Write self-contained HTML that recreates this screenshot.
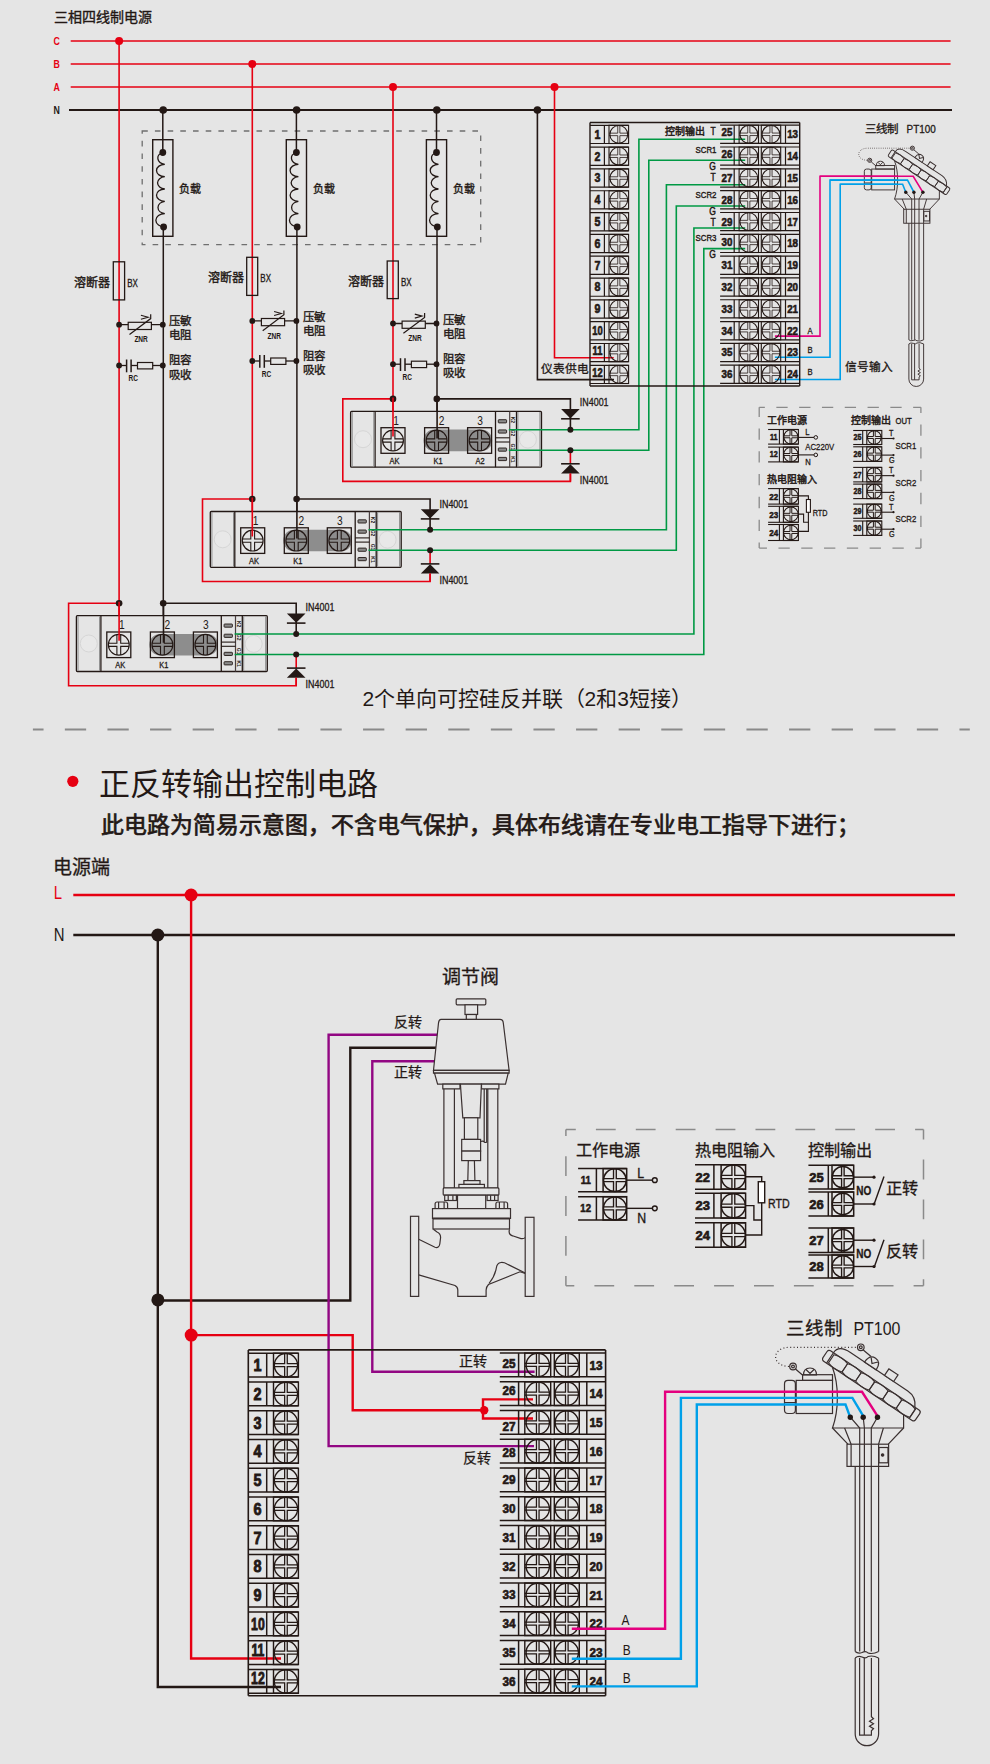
<!DOCTYPE html><html lang="zh-CN"><head><meta charset="utf-8"><style>html,body{margin:0;padding:0;background:#e5e5e5;}svg{display:block}text{font-family:"Liberation Sans",sans-serif}</style></head><body>
<svg width="990" height="1764" viewBox="0 0 990 1764">
<rect width="990" height="1764" fill="#e5e5e5"/>
<text x="54" y="21.9" font-size="14" fill="#231815" font-weight="normal" text-anchor="start" stroke="#231815" stroke-width="0.35">三相四线制电源</text>
<text transform="translate(53.5,44.8) scale(0.8,1)" x="0" y="0" font-size="11" fill="#e60012" font-weight="bold" text-anchor="start">C</text>
<text transform="translate(53.5,67.8) scale(0.8,1)" x="0" y="0" font-size="11" fill="#e60012" font-weight="bold" text-anchor="start">B</text>
<text transform="translate(53.5,90.8) scale(0.8,1)" x="0" y="0" font-size="11" fill="#e60012" font-weight="bold" text-anchor="start">A</text>
<text transform="translate(53.5,113.8) scale(0.8,1)" x="0" y="0" font-size="11" fill="#231815" font-weight="bold" text-anchor="start">N</text>
<line x1="70.7" y1="41" x2="950.6" y2="41" stroke="#e60012" stroke-width="1.6" />
<line x1="70.7" y1="64" x2="950.6" y2="64" stroke="#e60012" stroke-width="1.6" />
<line x1="70.7" y1="87" x2="950.6" y2="87" stroke="#e60012" stroke-width="1.6" />
<line x1="69" y1="110" x2="952" y2="110" stroke="#231815" stroke-width="2" />
<rect x="142.2" y="131" width="338.5" height="113.7" fill="none" stroke="#6f6f6f" stroke-width="1.3" stroke-dasharray="5.6 7.1"/>
<line x1="119.1" y1="41" x2="119.1" y2="617.2" stroke="#e60012" stroke-width="1.6" />
<line x1="162.8" y1="110" x2="162.8" y2="153" stroke="#231815" stroke-width="1.5" />
<line x1="163.3" y1="226" x2="163.3" y2="617.2" stroke="#231815" stroke-width="1.5" />
<rect x="152.7" y="139.7" width="20.2" height="96.6" fill="none" stroke="#231815" stroke-width="1.4" />
<path d="M162.8,152.5 A8.3 6.2 0 0 0 164.8,164.3 A8.3 6.2 0 0 0 164.8,176.7 A8.3 6.2 0 0 0 164.8,189 A8.3 6.2 0 0 0 164.8,201.4 A8.3 6.2 0 0 0 164.8,213.6 A8.3 6.2 0 0 0 164.8,227" fill="none" stroke="#231815" stroke-width="1.3" />
<circle cx="162.8" cy="152.5" r="3.4" fill="#231815"/>
<circle cx="163.6" cy="227" r="3.4" fill="#231815"/>
<text x="179.4" y="193.45" font-size="11" fill="#231815" font-weight="normal" text-anchor="start" stroke="#231815" stroke-width="0.35">负载</text>
<rect x="113.3" y="261.8" width="11.3" height="38.1" fill="none" stroke="#231815" stroke-width="1.3" />
<text x="74.1" y="286.85" font-size="12" fill="#231815" font-weight="normal" text-anchor="start" stroke="#231815" stroke-width="0.35">溶断器</text>
<text transform="translate(127.2,286.8) scale(0.8,1)" x="0" y="0" font-size="10" fill="#231815" font-weight="normal" text-anchor="start" stroke="#231815" stroke-width="0.3">BX</text>
<line x1="119.1" y1="324.7" x2="162.8" y2="324.7" stroke="#231815" stroke-width="1.3" />
<rect x="128.2" y="322.3" width="23.2" height="7.2" fill="#e5e5e5" stroke="#231815" stroke-width="1.2" />
<polyline points="129.5,334.5 150.7,318.6 150.7,314.2" fill="none" stroke="#231815" stroke-width="1.2" stroke-linejoin="miter" />
<polyline points="140.9,315.3 148.1,317.3 140.9,319.3" fill="none" stroke="#231815" stroke-width="1.1" stroke-linejoin="miter" />
<text transform="translate(141.1,342.43) scale(0.8,1)" x="0" y="0" font-size="8.2" fill="#231815" font-weight="bold" text-anchor="middle">ZNR</text>
<circle cx="119.1" cy="324.7" r="2.9" fill="#231815"/>
<circle cx="162.8" cy="324.7" r="2.9" fill="#231815"/>
<text x="168.9" y="325.22" font-size="11.5" fill="#231815" font-weight="normal" text-anchor="start" stroke="#231815" stroke-width="0.35">压敏</text>
<text x="168.9" y="339.12" font-size="11.5" fill="#231815" font-weight="normal" text-anchor="start" stroke="#231815" stroke-width="0.35">电阻</text>
<line x1="119.1" y1="365.5" x2="126.6" y2="365.5" stroke="#231815" stroke-width="1.3" />
<line x1="131.1" y1="365.5" x2="137.5" y2="365.5" stroke="#231815" stroke-width="1.3" />
<line x1="152.7" y1="365.5" x2="162.8" y2="365.5" stroke="#231815" stroke-width="1.3" />
<line x1="126.6" y1="359.5" x2="126.6" y2="372.3" stroke="#231815" stroke-width="1.5" />
<line x1="131.1" y1="359.5" x2="131.1" y2="372.3" stroke="#231815" stroke-width="1.5" />
<rect x="137.5" y="362.5" width="15.2" height="6.4" fill="none" stroke="#231815" stroke-width="1.2" />
<text transform="translate(133.3,381.23) scale(0.8,1)" x="0" y="0" font-size="8.2" fill="#231815" font-weight="bold" text-anchor="middle">RC</text>
<circle cx="119.1" cy="365.5" r="2.9" fill="#231815"/>
<circle cx="162.8" cy="365.5" r="2.9" fill="#231815"/>
<text x="168.9" y="364.32" font-size="11.5" fill="#231815" font-weight="normal" text-anchor="start" stroke="#231815" stroke-width="0.35">阻容</text>
<text x="168.9" y="378.52" font-size="11.5" fill="#231815" font-weight="normal" text-anchor="start" stroke="#231815" stroke-width="0.35">吸收</text>
<line x1="252.3" y1="64" x2="252.3" y2="512.8" stroke="#e60012" stroke-width="1.6" />
<line x1="296.4" y1="110" x2="296.4" y2="153" stroke="#231815" stroke-width="1.5" />
<line x1="296.9" y1="226" x2="296.9" y2="512.8" stroke="#231815" stroke-width="1.5" />
<rect x="286.3" y="139.7" width="20.2" height="96.6" fill="none" stroke="#231815" stroke-width="1.4" />
<path d="M296.4,152.5 A8.3 6.2 0 0 0 298.4,164.3 A8.3 6.2 0 0 0 298.4,176.7 A8.3 6.2 0 0 0 298.4,189 A8.3 6.2 0 0 0 298.4,201.4 A8.3 6.2 0 0 0 298.4,213.6 A8.3 6.2 0 0 0 298.4,227" fill="none" stroke="#231815" stroke-width="1.3" />
<circle cx="296.4" cy="152.5" r="3.4" fill="#231815"/>
<circle cx="297.2" cy="227" r="3.4" fill="#231815"/>
<text x="313" y="193.45" font-size="11" fill="#231815" font-weight="normal" text-anchor="start" stroke="#231815" stroke-width="0.35">负载</text>
<rect x="246.7" y="257.3" width="11" height="38.1" fill="none" stroke="#231815" stroke-width="1.3" />
<text x="207.5" y="282.35" font-size="12" fill="#231815" font-weight="normal" text-anchor="start" stroke="#231815" stroke-width="0.35">溶断器</text>
<text transform="translate(260.3,282.3) scale(0.8,1)" x="0" y="0" font-size="10" fill="#231815" font-weight="normal" text-anchor="start" stroke="#231815" stroke-width="0.3">BX</text>
<line x1="252.3" y1="320.9" x2="296.4" y2="320.9" stroke="#231815" stroke-width="1.3" />
<rect x="261.4" y="318.5" width="23.2" height="7.2" fill="#e5e5e5" stroke="#231815" stroke-width="1.2" />
<polyline points="262.7,330.7 283.9,314.8 283.9,310.4" fill="none" stroke="#231815" stroke-width="1.2" stroke-linejoin="miter" />
<polyline points="274.1,311.5 281.3,313.5 274.1,315.5" fill="none" stroke="#231815" stroke-width="1.1" stroke-linejoin="miter" />
<text transform="translate(274.3,338.63) scale(0.8,1)" x="0" y="0" font-size="8.2" fill="#231815" font-weight="bold" text-anchor="middle">ZNR</text>
<circle cx="252.3" cy="320.9" r="2.9" fill="#231815"/>
<circle cx="296.4" cy="320.9" r="2.9" fill="#231815"/>
<text x="302.5" y="321.42" font-size="11.5" fill="#231815" font-weight="normal" text-anchor="start" stroke="#231815" stroke-width="0.35">压敏</text>
<text x="302.5" y="335.32" font-size="11.5" fill="#231815" font-weight="normal" text-anchor="start" stroke="#231815" stroke-width="0.35">电阻</text>
<line x1="252.3" y1="361" x2="259.8" y2="361" stroke="#231815" stroke-width="1.3" />
<line x1="264.3" y1="361" x2="270.7" y2="361" stroke="#231815" stroke-width="1.3" />
<line x1="285.9" y1="361" x2="296.4" y2="361" stroke="#231815" stroke-width="1.3" />
<line x1="259.8" y1="355" x2="259.8" y2="367.8" stroke="#231815" stroke-width="1.5" />
<line x1="264.3" y1="355" x2="264.3" y2="367.8" stroke="#231815" stroke-width="1.5" />
<rect x="270.7" y="358" width="15.2" height="6.4" fill="none" stroke="#231815" stroke-width="1.2" />
<text transform="translate(266.5,376.73) scale(0.8,1)" x="0" y="0" font-size="8.2" fill="#231815" font-weight="bold" text-anchor="middle">RC</text>
<circle cx="252.3" cy="361" r="2.9" fill="#231815"/>
<circle cx="296.4" cy="361" r="2.9" fill="#231815"/>
<text x="302.5" y="359.82" font-size="11.5" fill="#231815" font-weight="normal" text-anchor="start" stroke="#231815" stroke-width="0.35">阻容</text>
<text x="302.5" y="374.02" font-size="11.5" fill="#231815" font-weight="normal" text-anchor="start" stroke="#231815" stroke-width="0.35">吸收</text>
<line x1="393" y1="87" x2="393" y2="412.6" stroke="#e60012" stroke-width="1.6" />
<line x1="436.5" y1="110" x2="436.5" y2="153" stroke="#231815" stroke-width="1.5" />
<line x1="437" y1="226" x2="437" y2="412.6" stroke="#231815" stroke-width="1.5" />
<rect x="426.4" y="139.7" width="20.2" height="96.6" fill="none" stroke="#231815" stroke-width="1.4" />
<path d="M436.5,152.5 A8.3 6.2 0 0 0 438.5,164.3 A8.3 6.2 0 0 0 438.5,176.7 A8.3 6.2 0 0 0 438.5,189 A8.3 6.2 0 0 0 438.5,201.4 A8.3 6.2 0 0 0 438.5,213.6 A8.3 6.2 0 0 0 438.5,227" fill="none" stroke="#231815" stroke-width="1.3" />
<circle cx="436.5" cy="152.5" r="3.4" fill="#231815"/>
<circle cx="437.3" cy="227" r="3.4" fill="#231815"/>
<text x="453.1" y="193.45" font-size="11" fill="#231815" font-weight="normal" text-anchor="start" stroke="#231815" stroke-width="0.35">负载</text>
<rect x="387.2" y="261" width="11.1" height="37.6" fill="none" stroke="#231815" stroke-width="1.3" />
<text x="348" y="285.8" font-size="12" fill="#231815" font-weight="normal" text-anchor="start" stroke="#231815" stroke-width="0.35">溶断器</text>
<text transform="translate(400.9,285.75) scale(0.8,1)" x="0" y="0" font-size="10" fill="#231815" font-weight="normal" text-anchor="start" stroke="#231815" stroke-width="0.3">BX</text>
<line x1="393" y1="323.5" x2="436.5" y2="323.5" stroke="#231815" stroke-width="1.3" />
<rect x="402.1" y="321.1" width="23.2" height="7.2" fill="#e5e5e5" stroke="#231815" stroke-width="1.2" />
<polyline points="403.4,333.3 424.6,317.4 424.6,313" fill="none" stroke="#231815" stroke-width="1.2" stroke-linejoin="miter" />
<polyline points="414.8,314.1 422,316.1 414.8,318.1" fill="none" stroke="#231815" stroke-width="1.1" stroke-linejoin="miter" />
<text transform="translate(415,341.23) scale(0.8,1)" x="0" y="0" font-size="8.2" fill="#231815" font-weight="bold" text-anchor="middle">ZNR</text>
<circle cx="393" cy="323.5" r="2.9" fill="#231815"/>
<circle cx="436.5" cy="323.5" r="2.9" fill="#231815"/>
<text x="442.6" y="324.02" font-size="11.5" fill="#231815" font-weight="normal" text-anchor="start" stroke="#231815" stroke-width="0.35">压敏</text>
<text x="442.6" y="337.92" font-size="11.5" fill="#231815" font-weight="normal" text-anchor="start" stroke="#231815" stroke-width="0.35">电阻</text>
<line x1="393" y1="364.2" x2="400.5" y2="364.2" stroke="#231815" stroke-width="1.3" />
<line x1="405" y1="364.2" x2="411.4" y2="364.2" stroke="#231815" stroke-width="1.3" />
<line x1="426.6" y1="364.2" x2="436.5" y2="364.2" stroke="#231815" stroke-width="1.3" />
<line x1="400.5" y1="358.2" x2="400.5" y2="371" stroke="#231815" stroke-width="1.5" />
<line x1="405" y1="358.2" x2="405" y2="371" stroke="#231815" stroke-width="1.5" />
<rect x="411.4" y="361.2" width="15.2" height="6.4" fill="none" stroke="#231815" stroke-width="1.2" />
<text transform="translate(407.2,379.93) scale(0.8,1)" x="0" y="0" font-size="8.2" fill="#231815" font-weight="bold" text-anchor="middle">RC</text>
<circle cx="393" cy="364.2" r="2.9" fill="#231815"/>
<circle cx="436.5" cy="364.2" r="2.9" fill="#231815"/>
<text x="442.6" y="363.02" font-size="11.5" fill="#231815" font-weight="normal" text-anchor="start" stroke="#231815" stroke-width="0.35">阻容</text>
<text x="442.6" y="377.22" font-size="11.5" fill="#231815" font-weight="normal" text-anchor="start" stroke="#231815" stroke-width="0.35">吸收</text>
<circle cx="119.1" cy="41" r="4" fill="#e60012"/>
<circle cx="252.3" cy="64" r="4" fill="#e60012"/>
<circle cx="393" cy="87" r="4" fill="#e60012"/>
<circle cx="554.5" cy="87" r="4" fill="#e60012"/>
<circle cx="163.2" cy="110" r="3.8" fill="#231815"/>
<circle cx="296.6" cy="110" r="3.8" fill="#231815"/>
<circle cx="436.8" cy="110" r="3.8" fill="#231815"/>
<circle cx="537.4" cy="110" r="3.8" fill="#231815"/>
<rect x="350.6" y="411.4" width="190.9" height="55.8" rx="1" fill="#e5e5e5" stroke="#231815" stroke-width="1.3"/>
<line x1="352.2" y1="412" x2="352.2" y2="466.6" stroke="#8a8a8a" stroke-width="1.0" />
<line x1="375.1" y1="411.4" x2="375.1" y2="467.2" stroke="#231815" stroke-width="1.3" />
<line x1="373.8" y1="412" x2="373.8" y2="466.6" stroke="#8a8a8a" stroke-width="1.0" />
<circle cx="363" cy="439.2" r="8.5" fill="#e8e8e8" stroke="#d6d6d6" stroke-width="1.0"/>
<line x1="516.5" y1="411.4" x2="516.5" y2="467.2" stroke="#231815" stroke-width="1.3" />
<line x1="517.9" y1="412" x2="517.9" y2="466.6" stroke="#8a8a8a" stroke-width="1.0" />
<line x1="540" y1="412" x2="540" y2="466.6" stroke="#8a8a8a" stroke-width="1.2" />
<circle cx="527.9" cy="439.6" r="8.5" fill="#e8e8e8" stroke="#d6d6d6" stroke-width="1.0"/>
<line x1="495.5" y1="411.4" x2="495.5" y2="467.2" stroke="#231815" stroke-width="1.3" />
<line x1="509.7" y1="411.4" x2="509.7" y2="467.2" stroke="#4a4040" stroke-width="1.2" />
<line x1="495.5" y1="437.8" x2="509.7" y2="437.8" stroke="#231815" stroke-width="1.1" />
<line x1="495.5" y1="442" x2="509.7" y2="442" stroke="#231815" stroke-width="1.1" />
<rect x="498.3" y="419.7" width="8.3" height="3.2" rx="0.6" fill="#8c8c8c" stroke="#231815" stroke-width="0.9"/>
<rect x="498.3" y="429.9" width="8.3" height="3.2" rx="0.6" fill="#8c8c8c" stroke="#231815" stroke-width="0.9"/>
<rect x="498.3" y="448" width="8.3" height="3.2" rx="0.6" fill="#8c8c8c" stroke="#231815" stroke-width="0.9"/>
<rect x="498.3" y="457.4" width="8.3" height="3.2" rx="0.6" fill="#8c8c8c" stroke="#231815" stroke-width="0.9"/>
<text transform="translate(511.1,419.9) rotate(90)" font-size="5" font-weight="bold" fill="#231815" text-anchor="middle">K2</text>
<text transform="translate(511.1,432.9) rotate(90)" font-size="5" font-weight="bold" fill="#231815" text-anchor="middle">G2</text>
<text transform="translate(511.1,446.9) rotate(90)" font-size="5" font-weight="bold" fill="#231815" text-anchor="middle">G1</text>
<text transform="translate(511.1,459.4) rotate(90)" font-size="5" font-weight="bold" fill="#231815" text-anchor="middle">K1</text>
<rect x="423.5" y="429.6" width="68.7" height="21.6" rx="10.8" fill="#8d8d8d"/>
<rect x="381" y="427.7" width="24" height="25.6" fill="none" stroke="#231815" stroke-width="1.3" />
<circle cx="393" cy="440.5" r="10.4" fill="none" stroke="#231815" stroke-width="1.2"/>
<path d="M391.1,430.4V438.9H382.9M382.9,442.1H391.1V450.6M394.9,430.4V438.9H403.1M403.1,442.1H394.9V450.6" fill="none" stroke="#231815" stroke-width="1.1" />
<rect x="424.6" y="427.7" width="24" height="25.6" fill="none" stroke="#231815" stroke-width="1.3" />
<circle cx="436.6" cy="440.5" r="10.4" fill="none" stroke="#231815" stroke-width="1.2"/>
<path d="M434.7,430.4V438.9H426.5M426.5,442.1H434.7V450.6M438.5,430.4V438.9H446.7M446.7,442.1H438.5V450.6" fill="none" stroke="#231815" stroke-width="1.1" />
<rect x="467.6" y="427.7" width="24" height="25.6" fill="none" stroke="#231815" stroke-width="1.3" />
<circle cx="479.6" cy="440.5" r="10.4" fill="none" stroke="#231815" stroke-width="1.2"/>
<path d="M477.7,430.4V438.9H469.5M469.5,442.1H477.7V450.6M481.5,430.4V438.9H489.7M489.7,442.1H481.5V450.6" fill="none" stroke="#231815" stroke-width="1.1" />
<text transform="translate(396,424.54) scale(0.85,1)" x="0" y="0" font-size="12" fill="#231815" font-weight="normal" text-anchor="middle">1</text>
<text transform="translate(441.6,424.54) scale(0.85,1)" x="0" y="0" font-size="12" fill="#231815" font-weight="normal" text-anchor="middle">2</text>
<text transform="translate(480.1,424.54) scale(0.85,1)" x="0" y="0" font-size="12" fill="#231815" font-weight="normal" text-anchor="middle">3</text>
<text transform="translate(394.4,463.54) scale(0.85,1)" x="0" y="0" font-size="8.8" fill="#231815" font-weight="normal" text-anchor="middle" stroke="#231815" stroke-width="0.3">AK</text>
<text transform="translate(438.1,463.54) scale(0.85,1)" x="0" y="0" font-size="8.8" fill="#231815" font-weight="normal" text-anchor="middle" stroke="#231815" stroke-width="0.3">K1</text>
<text transform="translate(480.1,463.54) scale(0.85,1)" x="0" y="0" font-size="8.8" fill="#231815" font-weight="normal" text-anchor="middle" stroke="#231815" stroke-width="0.3">A2</text>
<rect x="210.3" y="511.5" width="190.9" height="55.8" rx="1" fill="#e5e5e5" stroke="#231815" stroke-width="1.3"/>
<line x1="211.9" y1="512.1" x2="211.9" y2="566.7" stroke="#8a8a8a" stroke-width="1.0" />
<line x1="234.8" y1="511.5" x2="234.8" y2="567.3" stroke="#231815" stroke-width="1.3" />
<line x1="233.5" y1="512.1" x2="233.5" y2="566.7" stroke="#8a8a8a" stroke-width="1.0" />
<circle cx="222.7" cy="539.3" r="8.5" fill="#e8e8e8" stroke="#d6d6d6" stroke-width="1.0"/>
<line x1="376.2" y1="511.5" x2="376.2" y2="567.3" stroke="#231815" stroke-width="1.3" />
<line x1="377.6" y1="512.1" x2="377.6" y2="566.7" stroke="#8a8a8a" stroke-width="1.0" />
<line x1="399.7" y1="512.1" x2="399.7" y2="566.7" stroke="#8a8a8a" stroke-width="1.2" />
<circle cx="387.6" cy="539.7" r="8.5" fill="#e8e8e8" stroke="#d6d6d6" stroke-width="1.0"/>
<line x1="355.2" y1="511.5" x2="355.2" y2="567.3" stroke="#231815" stroke-width="1.3" />
<line x1="369.4" y1="511.5" x2="369.4" y2="567.3" stroke="#4a4040" stroke-width="1.2" />
<line x1="355.2" y1="537.9" x2="369.4" y2="537.9" stroke="#231815" stroke-width="1.1" />
<line x1="355.2" y1="542.1" x2="369.4" y2="542.1" stroke="#231815" stroke-width="1.1" />
<rect x="358" y="519.8" width="8.3" height="3.2" rx="0.6" fill="#8c8c8c" stroke="#231815" stroke-width="0.9"/>
<rect x="358" y="530" width="8.3" height="3.2" rx="0.6" fill="#8c8c8c" stroke="#231815" stroke-width="0.9"/>
<rect x="358" y="548.1" width="8.3" height="3.2" rx="0.6" fill="#8c8c8c" stroke="#231815" stroke-width="0.9"/>
<rect x="358" y="557.5" width="8.3" height="3.2" rx="0.6" fill="#8c8c8c" stroke="#231815" stroke-width="0.9"/>
<text transform="translate(370.8,520) rotate(90)" font-size="5" font-weight="bold" fill="#231815" text-anchor="middle">K2</text>
<text transform="translate(370.8,533) rotate(90)" font-size="5" font-weight="bold" fill="#231815" text-anchor="middle">G2</text>
<text transform="translate(370.8,547) rotate(90)" font-size="5" font-weight="bold" fill="#231815" text-anchor="middle">G1</text>
<text transform="translate(370.8,559.5) rotate(90)" font-size="5" font-weight="bold" fill="#231815" text-anchor="middle">K1</text>
<rect x="283.2" y="529.7" width="68.7" height="21.6" rx="10.8" fill="#8d8d8d"/>
<rect x="240.7" y="527.8" width="24" height="25.6" fill="none" stroke="#231815" stroke-width="1.3" />
<circle cx="252.7" cy="540.6" r="10.4" fill="none" stroke="#231815" stroke-width="1.2"/>
<path d="M250.8,530.5V539H242.6M242.6,542.2H250.8V550.7M254.6,530.5V539H262.8M262.8,542.2H254.6V550.7" fill="none" stroke="#231815" stroke-width="1.1" />
<rect x="284.3" y="527.8" width="24" height="25.6" fill="none" stroke="#231815" stroke-width="1.3" />
<circle cx="296.3" cy="540.6" r="10.4" fill="none" stroke="#231815" stroke-width="1.2"/>
<path d="M294.4,530.5V539H286.2M286.2,542.2H294.4V550.7M298.2,530.5V539H306.4M306.4,542.2H298.2V550.7" fill="none" stroke="#231815" stroke-width="1.1" />
<rect x="327.3" y="527.8" width="24" height="25.6" fill="none" stroke="#231815" stroke-width="1.3" />
<circle cx="339.3" cy="540.6" r="10.4" fill="none" stroke="#231815" stroke-width="1.2"/>
<path d="M337.4,530.5V539H329.2M329.2,542.2H337.4V550.7M341.2,530.5V539H349.4M349.4,542.2H341.2V550.7" fill="none" stroke="#231815" stroke-width="1.1" />
<text transform="translate(255.7,524.64) scale(0.85,1)" x="0" y="0" font-size="12" fill="#231815" font-weight="normal" text-anchor="middle">1</text>
<text transform="translate(301.3,524.64) scale(0.85,1)" x="0" y="0" font-size="12" fill="#231815" font-weight="normal" text-anchor="middle">2</text>
<text transform="translate(339.8,524.64) scale(0.85,1)" x="0" y="0" font-size="12" fill="#231815" font-weight="normal" text-anchor="middle">3</text>
<text transform="translate(254.1,563.64) scale(0.85,1)" x="0" y="0" font-size="8.8" fill="#231815" font-weight="normal" text-anchor="middle" stroke="#231815" stroke-width="0.3">AK</text>
<text transform="translate(297.8,563.64) scale(0.85,1)" x="0" y="0" font-size="8.8" fill="#231815" font-weight="normal" text-anchor="middle" stroke="#231815" stroke-width="0.3">K1</text>
<rect x="76.4" y="615.7" width="190.9" height="55.8" rx="1" fill="#e5e5e5" stroke="#231815" stroke-width="1.3"/>
<line x1="78" y1="616.3" x2="78" y2="670.9" stroke="#8a8a8a" stroke-width="1.0" />
<line x1="100.9" y1="615.7" x2="100.9" y2="671.5" stroke="#231815" stroke-width="1.3" />
<line x1="99.6" y1="616.3" x2="99.6" y2="670.9" stroke="#8a8a8a" stroke-width="1.0" />
<circle cx="88.8" cy="643.5" r="8.5" fill="#e8e8e8" stroke="#d6d6d6" stroke-width="1.0"/>
<line x1="242.3" y1="615.7" x2="242.3" y2="671.5" stroke="#231815" stroke-width="1.3" />
<line x1="243.7" y1="616.3" x2="243.7" y2="670.9" stroke="#8a8a8a" stroke-width="1.0" />
<line x1="265.8" y1="616.3" x2="265.8" y2="670.9" stroke="#8a8a8a" stroke-width="1.2" />
<circle cx="253.7" cy="643.9" r="8.5" fill="#e8e8e8" stroke="#d6d6d6" stroke-width="1.0"/>
<line x1="221.3" y1="615.7" x2="221.3" y2="671.5" stroke="#231815" stroke-width="1.3" />
<line x1="235.5" y1="615.7" x2="235.5" y2="671.5" stroke="#4a4040" stroke-width="1.2" />
<line x1="221.3" y1="642.1" x2="235.5" y2="642.1" stroke="#231815" stroke-width="1.1" />
<line x1="221.3" y1="646.3" x2="235.5" y2="646.3" stroke="#231815" stroke-width="1.1" />
<rect x="224.1" y="624" width="8.3" height="3.2" rx="0.6" fill="#8c8c8c" stroke="#231815" stroke-width="0.9"/>
<rect x="224.1" y="634.2" width="8.3" height="3.2" rx="0.6" fill="#8c8c8c" stroke="#231815" stroke-width="0.9"/>
<rect x="224.1" y="652.3" width="8.3" height="3.2" rx="0.6" fill="#8c8c8c" stroke="#231815" stroke-width="0.9"/>
<rect x="224.1" y="661.7" width="8.3" height="3.2" rx="0.6" fill="#8c8c8c" stroke="#231815" stroke-width="0.9"/>
<text transform="translate(236.9,624.2) rotate(90)" font-size="5" font-weight="bold" fill="#231815" text-anchor="middle">K2</text>
<text transform="translate(236.9,637.2) rotate(90)" font-size="5" font-weight="bold" fill="#231815" text-anchor="middle">G2</text>
<text transform="translate(236.9,651.2) rotate(90)" font-size="5" font-weight="bold" fill="#231815" text-anchor="middle">G1</text>
<text transform="translate(236.9,663.7) rotate(90)" font-size="5" font-weight="bold" fill="#231815" text-anchor="middle">K1</text>
<rect x="149.3" y="633.9" width="68.7" height="21.6" rx="10.8" fill="#8d8d8d"/>
<rect x="106.8" y="632" width="24" height="25.6" fill="none" stroke="#231815" stroke-width="1.3" />
<circle cx="118.8" cy="644.8" r="10.4" fill="none" stroke="#231815" stroke-width="1.2"/>
<path d="M116.9,634.7V643.2H108.7M108.7,646.4H116.9V654.9M120.7,634.7V643.2H128.9M128.9,646.4H120.7V654.9" fill="none" stroke="#231815" stroke-width="1.1" />
<rect x="150.4" y="632" width="24" height="25.6" fill="none" stroke="#231815" stroke-width="1.3" />
<circle cx="162.4" cy="644.8" r="10.4" fill="none" stroke="#231815" stroke-width="1.2"/>
<path d="M160.5,634.7V643.2H152.3M152.3,646.4H160.5V654.9M164.3,634.7V643.2H172.5M172.5,646.4H164.3V654.9" fill="none" stroke="#231815" stroke-width="1.1" />
<rect x="193.4" y="632" width="24" height="25.6" fill="none" stroke="#231815" stroke-width="1.3" />
<circle cx="205.4" cy="644.8" r="10.4" fill="none" stroke="#231815" stroke-width="1.2"/>
<path d="M203.5,634.7V643.2H195.3M195.3,646.4H203.5V654.9M207.3,634.7V643.2H215.5M215.5,646.4H207.3V654.9" fill="none" stroke="#231815" stroke-width="1.1" />
<text transform="translate(121.8,628.84) scale(0.85,1)" x="0" y="0" font-size="12" fill="#231815" font-weight="normal" text-anchor="middle">1</text>
<text transform="translate(167.4,628.84) scale(0.85,1)" x="0" y="0" font-size="12" fill="#231815" font-weight="normal" text-anchor="middle">2</text>
<text transform="translate(205.9,628.84) scale(0.85,1)" x="0" y="0" font-size="12" fill="#231815" font-weight="normal" text-anchor="middle">3</text>
<text transform="translate(120.2,667.84) scale(0.85,1)" x="0" y="0" font-size="8.8" fill="#231815" font-weight="normal" text-anchor="middle" stroke="#231815" stroke-width="0.3">AK</text>
<text transform="translate(163.9,667.84) scale(0.85,1)" x="0" y="0" font-size="8.8" fill="#231815" font-weight="normal" text-anchor="middle" stroke="#231815" stroke-width="0.3">K1</text>
<polyline points="436.8,398.9 570.4,398.9 570.4,429.7" fill="none" stroke="#231815" stroke-width="1.6" stroke-linejoin="miter" />
<path d="M561.1,409.1H579.7L570.4,418.4Z" fill="#231815"/>
<line x1="561.1" y1="418.8" x2="579.7" y2="418.8" stroke="#231815" stroke-width="1.6" />
<polyline points="393,398.9 342.8,398.9 342.8,481.4 570.4,481.4 570.4,473.4" fill="none" stroke="#e60012" stroke-width="1.6" stroke-linejoin="miter" />
<line x1="570.4" y1="450.2" x2="570.4" y2="464" stroke="#e60012" stroke-width="1.6" />
<path d="M561.1,473.4H579.7L570.4,464.2Z" fill="#231815"/>
<line x1="561.1" y1="463.8" x2="579.7" y2="463.8" stroke="#231815" stroke-width="1.6" />
<line x1="570.4" y1="473.4" x2="570.4" y2="481.4" stroke="#e60012" stroke-width="1.6" />
<circle cx="393" cy="398.9" r="3.3" fill="#231815"/>
<circle cx="436.8" cy="398.9" r="3.3" fill="#231815"/>
<text transform="translate(579.8,405.72) scale(0.85,1)" x="0" y="0" font-size="10.5" fill="#231815" font-weight="normal" text-anchor="start" stroke="#231815" stroke-width="0.3">IN4001</text>
<text transform="translate(579.8,483.82) scale(0.85,1)" x="0" y="0" font-size="10.5" fill="#231815" font-weight="normal" text-anchor="start" stroke="#231815" stroke-width="0.3">IN4001</text>
<line x1="393" y1="397.4" x2="393" y2="436.4" stroke="#e60012" stroke-width="1.6" />
<line x1="437.1" y1="397.4" x2="437.1" y2="438.4" stroke="#231815" stroke-width="1.6" />
<polyline points="296.6,499 430.1,499 430.1,529.8" fill="none" stroke="#231815" stroke-width="1.6" stroke-linejoin="miter" />
<path d="M420.8,509.2H439.4L430.1,518.5Z" fill="#231815"/>
<line x1="420.8" y1="518.9" x2="439.4" y2="518.9" stroke="#231815" stroke-width="1.6" />
<polyline points="252.3,499 202.5,499 202.5,581.5 430.1,581.5 430.1,573.5" fill="none" stroke="#e60012" stroke-width="1.6" stroke-linejoin="miter" />
<line x1="430.1" y1="550.3" x2="430.1" y2="564.1" stroke="#e60012" stroke-width="1.6" />
<path d="M420.8,573.5H439.4L430.1,564.3Z" fill="#231815"/>
<line x1="420.8" y1="563.9" x2="439.4" y2="563.9" stroke="#231815" stroke-width="1.6" />
<line x1="430.1" y1="573.5" x2="430.1" y2="581.5" stroke="#e60012" stroke-width="1.6" />
<circle cx="252.3" cy="499" r="3.3" fill="#231815"/>
<circle cx="296.6" cy="499" r="3.3" fill="#231815"/>
<text transform="translate(439.5,508.42) scale(0.85,1)" x="0" y="0" font-size="10.5" fill="#231815" font-weight="normal" text-anchor="start" stroke="#231815" stroke-width="0.3">IN4001</text>
<text transform="translate(439.5,583.92) scale(0.85,1)" x="0" y="0" font-size="10.5" fill="#231815" font-weight="normal" text-anchor="start" stroke="#231815" stroke-width="0.3">IN4001</text>
<line x1="252.3" y1="497.5" x2="252.3" y2="536.5" stroke="#e60012" stroke-width="1.6" />
<line x1="296.9" y1="497.5" x2="296.9" y2="538.5" stroke="#231815" stroke-width="1.6" />
<polyline points="163.2,603.2 296.2,603.2 296.2,634" fill="none" stroke="#231815" stroke-width="1.6" stroke-linejoin="miter" />
<path d="M286.9,613.4H305.5L296.2,622.7Z" fill="#231815"/>
<line x1="286.9" y1="623.1" x2="305.5" y2="623.1" stroke="#231815" stroke-width="1.6" />
<polyline points="119.1,603.2 68.6,603.2 68.6,685.7 296.2,685.7 296.2,677.7" fill="none" stroke="#e60012" stroke-width="1.6" stroke-linejoin="miter" />
<line x1="296.2" y1="654.5" x2="296.2" y2="668.3" stroke="#e60012" stroke-width="1.6" />
<path d="M286.9,677.7H305.5L296.2,668.5Z" fill="#231815"/>
<line x1="286.9" y1="668.1" x2="305.5" y2="668.1" stroke="#231815" stroke-width="1.6" />
<line x1="296.2" y1="677.7" x2="296.2" y2="685.7" stroke="#e60012" stroke-width="1.6" />
<circle cx="119.1" cy="603.2" r="3.3" fill="#231815"/>
<circle cx="163.2" cy="603.2" r="3.3" fill="#231815"/>
<text transform="translate(305.6,610.62) scale(0.85,1)" x="0" y="0" font-size="10.5" fill="#231815" font-weight="normal" text-anchor="start" stroke="#231815" stroke-width="0.3">IN4001</text>
<text transform="translate(305.6,688.12) scale(0.85,1)" x="0" y="0" font-size="10.5" fill="#231815" font-weight="normal" text-anchor="start" stroke="#231815" stroke-width="0.3">IN4001</text>
<line x1="119.1" y1="601.7" x2="119.1" y2="640.7" stroke="#e60012" stroke-width="1.6" />
<line x1="163.5" y1="601.7" x2="163.5" y2="642.7" stroke="#231815" stroke-width="1.6" />
<polyline points="554.5,87 554.5,357.8 613.7,357.8" fill="none" stroke="#e60012" stroke-width="1.6" stroke-linejoin="miter" />
<polyline points="537.4,110 537.4,379.6 614,379.6" fill="none" stroke="#231815" stroke-width="1.6" stroke-linejoin="miter" />
<polyline points="774.9,336.1 820,336.1 820,176.3 913.2,176.3 922.8,192.2" fill="none" stroke="#e4007f" stroke-width="1.6" stroke-linejoin="miter" />
<polyline points="774.9,357.3 830,357.3 830,180.1 907.5,180.1 913.9,192.2" fill="none" stroke="#00a0e9" stroke-width="1.6" stroke-linejoin="miter" />
<polyline points="774.9,379.5 840.2,379.5 840.2,184.2 902.6,184.2 905.8,192.2" fill="none" stroke="#00a0e9" stroke-width="1.6" stroke-linejoin="miter" />
<text x="541.2" y="373.3" font-size="11.7" fill="#231815" font-weight="normal" text-anchor="start" stroke="#231815" stroke-width="0.3">仪表供电</text>
<text x="845.1" y="371.3" font-size="11.7" fill="#231815" font-weight="normal" text-anchor="start" stroke="#231815" stroke-width="0.3">信号输入</text>
<text transform="translate(807.4,333.5) scale(0.85,1)" x="0" y="0" font-size="9" fill="#231815" font-weight="normal" text-anchor="start" stroke="#231815" stroke-width="0.3">A</text>
<text transform="translate(807.4,352.91) scale(0.85,1)" x="0" y="0" font-size="9" fill="#231815" font-weight="normal" text-anchor="start" stroke="#231815" stroke-width="0.3">B</text>
<text transform="translate(807.4,374.5) scale(0.85,1)" x="0" y="0" font-size="9" fill="#231815" font-weight="normal" text-anchor="start" stroke="#231815" stroke-width="0.3">B</text>
<text x="864.6" y="132.83" font-size="11.5" fill="#231815" font-weight="normal" text-anchor="start" stroke="#231815" stroke-width="0.3">三线制</text>
<text transform="translate(906.6,132.59) scale(0.9,1)" x="0" y="0" font-size="11" fill="#231815" font-weight="normal" text-anchor="start" stroke="#231815" stroke-width="0.3">PT100</text>
<polyline points="745.2,139.3 638.9,139.3 638.9,429.7 508.8,429.7" fill="none" stroke="#009944" stroke-width="1.6" stroke-linejoin="miter" />
<circle cx="570.4" cy="429.7" r="3" fill="#231815"/>
<polyline points="745.2,160.2 648.8,160.2 648.8,450.2 508.8,450.2" fill="none" stroke="#009944" stroke-width="1.6" stroke-linejoin="miter" />
<circle cx="570.4" cy="450.2" r="3" fill="#231815"/>
<polyline points="745.2,184.7 666.4,184.7 666.4,529.8 368.5,529.8" fill="none" stroke="#009944" stroke-width="1.6" stroke-linejoin="miter" />
<circle cx="430.1" cy="529.8" r="3" fill="#231815"/>
<polyline points="745.2,206 676.3,206 676.3,550.3 368.5,550.3" fill="none" stroke="#009944" stroke-width="1.6" stroke-linejoin="miter" />
<circle cx="430.1" cy="550.3" r="3" fill="#231815"/>
<polyline points="745.2,228 693.9,228 693.9,634 234.6,634" fill="none" stroke="#009944" stroke-width="1.6" stroke-linejoin="miter" />
<circle cx="296.2" cy="634" r="3" fill="#231815"/>
<polyline points="745.2,248.6 703.8,248.6 703.8,654.5 234.6,654.5" fill="none" stroke="#009944" stroke-width="1.6" stroke-linejoin="miter" />
<circle cx="296.2" cy="654.5" r="3" fill="#231815"/>
<line x1="590" y1="122.5" x2="799.7" y2="122.5" stroke="#231815" stroke-width="1.4" />
<line x1="590" y1="122.5" x2="590" y2="386" stroke="#231815" stroke-width="1.4" />
<line x1="590" y1="386" x2="799.7" y2="386" stroke="#231815" stroke-width="1.4" />
<line x1="799.7" y1="122.5" x2="799.7" y2="386" stroke="#231815" stroke-width="1.4" />
<line x1="590" y1="125.3" x2="628.6" y2="125.3" stroke="#231815" stroke-width="1.2" />
<line x1="590" y1="143.5" x2="628.6" y2="143.5" stroke="#231815" stroke-width="1.2" />
<line x1="604.4" y1="125.3" x2="604.4" y2="143.5" stroke="#231815" stroke-width="1.2" />
<rect x="609" y="125.3" width="19.6" height="18.2" fill="none" stroke="#231815" stroke-width="1.1" />
<circle cx="618.8" cy="134.4" r="8.9" fill="none" stroke="#231815" stroke-width="1.1"/>
<path d="M617.75,125.3V133.15H609M609,135.65H617.75V143.5M619.85,125.3V133.15H628.6M628.6,135.65H619.85V143.5" fill="none" stroke="#231815" stroke-width="0.8" />
<text transform="translate(597.4,138.71) scale(0.85,1)" x="0" y="0" font-size="12.5" fill="#231815" font-weight="bold" text-anchor="middle" stroke="#231815" stroke-width="0.62">1</text>
<line x1="590" y1="147.12" x2="628.6" y2="147.12" stroke="#231815" stroke-width="1.2" />
<line x1="590" y1="165.32" x2="628.6" y2="165.32" stroke="#231815" stroke-width="1.2" />
<line x1="604.4" y1="147.12" x2="604.4" y2="165.32" stroke="#231815" stroke-width="1.2" />
<rect x="609" y="147.12" width="19.6" height="18.2" fill="none" stroke="#231815" stroke-width="1.1" />
<circle cx="618.8" cy="156.22" r="8.9" fill="none" stroke="#231815" stroke-width="1.1"/>
<path d="M617.75,147.12V154.97H609M609,157.47H617.75V165.32M619.85,147.12V154.97H628.6M628.6,157.47H619.85V165.32" fill="none" stroke="#231815" stroke-width="0.8" />
<text transform="translate(597.4,160.53) scale(0.85,1)" x="0" y="0" font-size="12.5" fill="#231815" font-weight="bold" text-anchor="middle" stroke="#231815" stroke-width="0.62">2</text>
<line x1="590" y1="168.94" x2="628.6" y2="168.94" stroke="#231815" stroke-width="1.2" />
<line x1="590" y1="187.14" x2="628.6" y2="187.14" stroke="#231815" stroke-width="1.2" />
<line x1="604.4" y1="168.94" x2="604.4" y2="187.14" stroke="#231815" stroke-width="1.2" />
<rect x="609" y="168.94" width="19.6" height="18.2" fill="none" stroke="#231815" stroke-width="1.1" />
<circle cx="618.8" cy="178.04" r="8.9" fill="none" stroke="#231815" stroke-width="1.1"/>
<path d="M617.75,168.94V176.79H609M609,179.29H617.75V187.14M619.85,168.94V176.79H628.6M628.6,179.29H619.85V187.14" fill="none" stroke="#231815" stroke-width="0.8" />
<text transform="translate(597.4,182.35) scale(0.85,1)" x="0" y="0" font-size="12.5" fill="#231815" font-weight="bold" text-anchor="middle" stroke="#231815" stroke-width="0.62">3</text>
<line x1="590" y1="190.76" x2="628.6" y2="190.76" stroke="#231815" stroke-width="1.2" />
<line x1="590" y1="208.96" x2="628.6" y2="208.96" stroke="#231815" stroke-width="1.2" />
<line x1="604.4" y1="190.76" x2="604.4" y2="208.96" stroke="#231815" stroke-width="1.2" />
<rect x="609" y="190.76" width="19.6" height="18.2" fill="none" stroke="#231815" stroke-width="1.1" />
<circle cx="618.8" cy="199.86" r="8.9" fill="none" stroke="#231815" stroke-width="1.1"/>
<path d="M617.75,190.76V198.61H609M609,201.11H617.75V208.96M619.85,190.76V198.61H628.6M628.6,201.11H619.85V208.96" fill="none" stroke="#231815" stroke-width="0.8" />
<text transform="translate(597.4,204.17) scale(0.85,1)" x="0" y="0" font-size="12.5" fill="#231815" font-weight="bold" text-anchor="middle" stroke="#231815" stroke-width="0.62">4</text>
<line x1="590" y1="212.58" x2="628.6" y2="212.58" stroke="#231815" stroke-width="1.2" />
<line x1="590" y1="230.78" x2="628.6" y2="230.78" stroke="#231815" stroke-width="1.2" />
<line x1="604.4" y1="212.58" x2="604.4" y2="230.78" stroke="#231815" stroke-width="1.2" />
<rect x="609" y="212.58" width="19.6" height="18.2" fill="none" stroke="#231815" stroke-width="1.1" />
<circle cx="618.8" cy="221.68" r="8.9" fill="none" stroke="#231815" stroke-width="1.1"/>
<path d="M617.75,212.58V220.43H609M609,222.93H617.75V230.78M619.85,212.58V220.43H628.6M628.6,222.93H619.85V230.78" fill="none" stroke="#231815" stroke-width="0.8" />
<text transform="translate(597.4,225.99) scale(0.85,1)" x="0" y="0" font-size="12.5" fill="#231815" font-weight="bold" text-anchor="middle" stroke="#231815" stroke-width="0.62">5</text>
<line x1="590" y1="234.4" x2="628.6" y2="234.4" stroke="#231815" stroke-width="1.2" />
<line x1="590" y1="252.6" x2="628.6" y2="252.6" stroke="#231815" stroke-width="1.2" />
<line x1="604.4" y1="234.4" x2="604.4" y2="252.6" stroke="#231815" stroke-width="1.2" />
<rect x="609" y="234.4" width="19.6" height="18.2" fill="none" stroke="#231815" stroke-width="1.1" />
<circle cx="618.8" cy="243.5" r="8.9" fill="none" stroke="#231815" stroke-width="1.1"/>
<path d="M617.75,234.4V242.25H609M609,244.75H617.75V252.6M619.85,234.4V242.25H628.6M628.6,244.75H619.85V252.6" fill="none" stroke="#231815" stroke-width="0.8" />
<text transform="translate(597.4,247.81) scale(0.85,1)" x="0" y="0" font-size="12.5" fill="#231815" font-weight="bold" text-anchor="middle" stroke="#231815" stroke-width="0.62">6</text>
<line x1="590" y1="256.22" x2="628.6" y2="256.22" stroke="#231815" stroke-width="1.2" />
<line x1="590" y1="274.42" x2="628.6" y2="274.42" stroke="#231815" stroke-width="1.2" />
<line x1="604.4" y1="256.22" x2="604.4" y2="274.42" stroke="#231815" stroke-width="1.2" />
<rect x="609" y="256.22" width="19.6" height="18.2" fill="none" stroke="#231815" stroke-width="1.1" />
<circle cx="618.8" cy="265.32" r="8.9" fill="none" stroke="#231815" stroke-width="1.1"/>
<path d="M617.75,256.22V264.07H609M609,266.57H617.75V274.42M619.85,256.22V264.07H628.6M628.6,266.57H619.85V274.42" fill="none" stroke="#231815" stroke-width="0.8" />
<text transform="translate(597.4,269.63) scale(0.85,1)" x="0" y="0" font-size="12.5" fill="#231815" font-weight="bold" text-anchor="middle" stroke="#231815" stroke-width="0.62">7</text>
<line x1="590" y1="278.04" x2="628.6" y2="278.04" stroke="#231815" stroke-width="1.2" />
<line x1="590" y1="296.24" x2="628.6" y2="296.24" stroke="#231815" stroke-width="1.2" />
<line x1="604.4" y1="278.04" x2="604.4" y2="296.24" stroke="#231815" stroke-width="1.2" />
<rect x="609" y="278.04" width="19.6" height="18.2" fill="none" stroke="#231815" stroke-width="1.1" />
<circle cx="618.8" cy="287.14" r="8.9" fill="none" stroke="#231815" stroke-width="1.1"/>
<path d="M617.75,278.04V285.89H609M609,288.39H617.75V296.24M619.85,278.04V285.89H628.6M628.6,288.39H619.85V296.24" fill="none" stroke="#231815" stroke-width="0.8" />
<text transform="translate(597.4,291.45) scale(0.85,1)" x="0" y="0" font-size="12.5" fill="#231815" font-weight="bold" text-anchor="middle" stroke="#231815" stroke-width="0.62">8</text>
<line x1="590" y1="299.86" x2="628.6" y2="299.86" stroke="#231815" stroke-width="1.2" />
<line x1="590" y1="318.06" x2="628.6" y2="318.06" stroke="#231815" stroke-width="1.2" />
<line x1="604.4" y1="299.86" x2="604.4" y2="318.06" stroke="#231815" stroke-width="1.2" />
<rect x="609" y="299.86" width="19.6" height="18.2" fill="none" stroke="#231815" stroke-width="1.1" />
<circle cx="618.8" cy="308.96" r="8.9" fill="none" stroke="#231815" stroke-width="1.1"/>
<path d="M617.75,299.86V307.71H609M609,310.21H617.75V318.06M619.85,299.86V307.71H628.6M628.6,310.21H619.85V318.06" fill="none" stroke="#231815" stroke-width="0.8" />
<text transform="translate(597.4,313.27) scale(0.85,1)" x="0" y="0" font-size="12.5" fill="#231815" font-weight="bold" text-anchor="middle" stroke="#231815" stroke-width="0.62">9</text>
<line x1="590" y1="321.68" x2="628.6" y2="321.68" stroke="#231815" stroke-width="1.2" />
<line x1="590" y1="339.88" x2="628.6" y2="339.88" stroke="#231815" stroke-width="1.2" />
<line x1="604.4" y1="321.68" x2="604.4" y2="339.88" stroke="#231815" stroke-width="1.2" />
<rect x="609" y="321.68" width="19.6" height="18.2" fill="none" stroke="#231815" stroke-width="1.1" />
<circle cx="618.8" cy="330.78" r="8.9" fill="none" stroke="#231815" stroke-width="1.1"/>
<path d="M617.75,321.68V329.53H609M609,332.03H617.75V339.88M619.85,321.68V329.53H628.6M628.6,332.03H619.85V339.88" fill="none" stroke="#231815" stroke-width="0.8" />
<text transform="translate(597.4,335.09) scale(0.75,1)" x="0" y="0" font-size="12.5" fill="#231815" font-weight="bold" text-anchor="middle" stroke="#231815" stroke-width="0.62">10</text>
<line x1="590" y1="343.5" x2="628.6" y2="343.5" stroke="#231815" stroke-width="1.2" />
<line x1="590" y1="361.7" x2="628.6" y2="361.7" stroke="#231815" stroke-width="1.2" />
<line x1="604.4" y1="343.5" x2="604.4" y2="361.7" stroke="#231815" stroke-width="1.2" />
<rect x="609" y="343.5" width="19.6" height="18.2" fill="none" stroke="#231815" stroke-width="1.1" />
<circle cx="618.8" cy="352.6" r="8.9" fill="none" stroke="#231815" stroke-width="1.1"/>
<path d="M617.75,343.5V351.35H609M609,353.85H617.75V361.7M619.85,343.5V351.35H628.6M628.6,353.85H619.85V361.7" fill="none" stroke="#231815" stroke-width="0.8" />
<text transform="translate(597.4,354.91) scale(0.75,1)" x="0" y="0" font-size="12.5" fill="#231815" font-weight="bold" text-anchor="middle" stroke="#231815" stroke-width="0.62">11</text>
<line x1="590" y1="365.32" x2="628.6" y2="365.32" stroke="#231815" stroke-width="1.2" />
<line x1="590" y1="383.52" x2="628.6" y2="383.52" stroke="#231815" stroke-width="1.2" />
<line x1="604.4" y1="365.32" x2="604.4" y2="383.52" stroke="#231815" stroke-width="1.2" />
<rect x="609" y="365.32" width="19.6" height="18.2" fill="none" stroke="#231815" stroke-width="1.1" />
<circle cx="618.8" cy="374.42" r="8.9" fill="none" stroke="#231815" stroke-width="1.1"/>
<path d="M617.75,365.32V373.17H609M609,375.67H617.75V383.52M619.85,365.32V373.17H628.6M628.6,375.67H619.85V383.52" fill="none" stroke="#231815" stroke-width="0.8" />
<text transform="translate(597.4,376.73) scale(0.75,1)" x="0" y="0" font-size="12.5" fill="#231815" font-weight="bold" text-anchor="middle" stroke="#231815" stroke-width="0.62">12</text>
<line x1="720.1" y1="125.2" x2="799.7" y2="125.2" stroke="#231815" stroke-width="1.2" />
<line x1="720.1" y1="143.4" x2="799.7" y2="143.4" stroke="#231815" stroke-width="1.2" />
<line x1="734.2" y1="125.2" x2="734.2" y2="143.4" stroke="#231815" stroke-width="1.2" />
<line x1="785.5" y1="125.2" x2="785.5" y2="143.4" stroke="#231815" stroke-width="1.2" />
<rect x="739.1" y="125.2" width="19.4" height="18.2" fill="none" stroke="#231815" stroke-width="1.1" />
<circle cx="748.8" cy="134.3" r="8.9" fill="none" stroke="#231815" stroke-width="1.1"/>
<path d="M747.75,125.2V133.05H739.1M739.1,135.55H747.75V143.4M749.85,125.2V133.05H758.5M758.5,135.55H749.85V143.4" fill="none" stroke="#231815" stroke-width="0.8" />
<rect x="761.3" y="125.2" width="19.4" height="18.2" fill="none" stroke="#231815" stroke-width="1.1" />
<circle cx="771" cy="134.3" r="8.9" fill="none" stroke="#231815" stroke-width="1.1"/>
<path d="M769.95,125.2V133.05H761.3M761.3,135.55H769.95V143.4M772.05,125.2V133.05H780.7M780.7,135.55H772.05V143.4" fill="none" stroke="#231815" stroke-width="0.8" />
<text transform="translate(727,136.27) scale(0.85,1)" x="0" y="0" font-size="11.5" fill="#231815" font-weight="bold" text-anchor="middle" stroke="#231815" stroke-width="0.58">25</text>
<text transform="translate(792.6,138.27) scale(0.85,1)" x="0" y="0" font-size="11.5" fill="#231815" font-weight="bold" text-anchor="middle" stroke="#231815" stroke-width="0.58">13</text>
<line x1="720.1" y1="147.02" x2="799.7" y2="147.02" stroke="#231815" stroke-width="1.2" />
<line x1="720.1" y1="165.22" x2="799.7" y2="165.22" stroke="#231815" stroke-width="1.2" />
<line x1="734.2" y1="147.02" x2="734.2" y2="165.22" stroke="#231815" stroke-width="1.2" />
<line x1="785.5" y1="147.02" x2="785.5" y2="165.22" stroke="#231815" stroke-width="1.2" />
<rect x="739.1" y="147.02" width="19.4" height="18.2" fill="none" stroke="#231815" stroke-width="1.1" />
<circle cx="748.8" cy="156.12" r="8.9" fill="none" stroke="#231815" stroke-width="1.1"/>
<path d="M747.75,147.02V154.87H739.1M739.1,157.37H747.75V165.22M749.85,147.02V154.87H758.5M758.5,157.37H749.85V165.22" fill="none" stroke="#231815" stroke-width="0.8" />
<rect x="761.3" y="147.02" width="19.4" height="18.2" fill="none" stroke="#231815" stroke-width="1.1" />
<circle cx="771" cy="156.12" r="8.9" fill="none" stroke="#231815" stroke-width="1.1"/>
<path d="M769.95,147.02V154.87H761.3M761.3,157.37H769.95V165.22M772.05,147.02V154.87H780.7M780.7,157.37H772.05V165.22" fill="none" stroke="#231815" stroke-width="0.8" />
<text transform="translate(727,158.09) scale(0.85,1)" x="0" y="0" font-size="11.5" fill="#231815" font-weight="bold" text-anchor="middle" stroke="#231815" stroke-width="0.58">26</text>
<text transform="translate(792.6,160.09) scale(0.85,1)" x="0" y="0" font-size="11.5" fill="#231815" font-weight="bold" text-anchor="middle" stroke="#231815" stroke-width="0.58">14</text>
<line x1="720.1" y1="168.84" x2="799.7" y2="168.84" stroke="#231815" stroke-width="1.2" />
<line x1="720.1" y1="187.04" x2="799.7" y2="187.04" stroke="#231815" stroke-width="1.2" />
<line x1="734.2" y1="168.84" x2="734.2" y2="187.04" stroke="#231815" stroke-width="1.2" />
<line x1="785.5" y1="168.84" x2="785.5" y2="187.04" stroke="#231815" stroke-width="1.2" />
<rect x="739.1" y="168.84" width="19.4" height="18.2" fill="none" stroke="#231815" stroke-width="1.1" />
<circle cx="748.8" cy="177.94" r="8.9" fill="none" stroke="#231815" stroke-width="1.1"/>
<path d="M747.75,168.84V176.69H739.1M739.1,179.19H747.75V187.04M749.85,168.84V176.69H758.5M758.5,179.19H749.85V187.04" fill="none" stroke="#231815" stroke-width="0.8" />
<rect x="761.3" y="168.84" width="19.4" height="18.2" fill="none" stroke="#231815" stroke-width="1.1" />
<circle cx="771" cy="177.94" r="8.9" fill="none" stroke="#231815" stroke-width="1.1"/>
<path d="M769.95,168.84V176.69H761.3M761.3,179.19H769.95V187.04M772.05,168.84V176.69H780.7M780.7,179.19H772.05V187.04" fill="none" stroke="#231815" stroke-width="0.8" />
<text transform="translate(727,181.91) scale(0.85,1)" x="0" y="0" font-size="11.5" fill="#231815" font-weight="bold" text-anchor="middle" stroke="#231815" stroke-width="0.58">27</text>
<text transform="translate(792.6,181.91) scale(0.85,1)" x="0" y="0" font-size="11.5" fill="#231815" font-weight="bold" text-anchor="middle" stroke="#231815" stroke-width="0.58">15</text>
<line x1="720.1" y1="190.66" x2="799.7" y2="190.66" stroke="#231815" stroke-width="1.2" />
<line x1="720.1" y1="208.86" x2="799.7" y2="208.86" stroke="#231815" stroke-width="1.2" />
<line x1="734.2" y1="190.66" x2="734.2" y2="208.86" stroke="#231815" stroke-width="1.2" />
<line x1="785.5" y1="190.66" x2="785.5" y2="208.86" stroke="#231815" stroke-width="1.2" />
<rect x="739.1" y="190.66" width="19.4" height="18.2" fill="none" stroke="#231815" stroke-width="1.1" />
<circle cx="748.8" cy="199.76" r="8.9" fill="none" stroke="#231815" stroke-width="1.1"/>
<path d="M747.75,190.66V198.51H739.1M739.1,201.01H747.75V208.86M749.85,190.66V198.51H758.5M758.5,201.01H749.85V208.86" fill="none" stroke="#231815" stroke-width="0.8" />
<rect x="761.3" y="190.66" width="19.4" height="18.2" fill="none" stroke="#231815" stroke-width="1.1" />
<circle cx="771" cy="199.76" r="8.9" fill="none" stroke="#231815" stroke-width="1.1"/>
<path d="M769.95,190.66V198.51H761.3M761.3,201.01H769.95V208.86M772.05,190.66V198.51H780.7M780.7,201.01H772.05V208.86" fill="none" stroke="#231815" stroke-width="0.8" />
<text transform="translate(727,203.73) scale(0.85,1)" x="0" y="0" font-size="11.5" fill="#231815" font-weight="bold" text-anchor="middle" stroke="#231815" stroke-width="0.58">28</text>
<text transform="translate(792.6,203.73) scale(0.85,1)" x="0" y="0" font-size="11.5" fill="#231815" font-weight="bold" text-anchor="middle" stroke="#231815" stroke-width="0.58">16</text>
<line x1="720.1" y1="212.48" x2="799.7" y2="212.48" stroke="#231815" stroke-width="1.2" />
<line x1="720.1" y1="230.68" x2="799.7" y2="230.68" stroke="#231815" stroke-width="1.2" />
<line x1="734.2" y1="212.48" x2="734.2" y2="230.68" stroke="#231815" stroke-width="1.2" />
<line x1="785.5" y1="212.48" x2="785.5" y2="230.68" stroke="#231815" stroke-width="1.2" />
<rect x="739.1" y="212.48" width="19.4" height="18.2" fill="none" stroke="#231815" stroke-width="1.1" />
<circle cx="748.8" cy="221.58" r="8.9" fill="none" stroke="#231815" stroke-width="1.1"/>
<path d="M747.75,212.48V220.33H739.1M739.1,222.83H747.75V230.68M749.85,212.48V220.33H758.5M758.5,222.83H749.85V230.68" fill="none" stroke="#231815" stroke-width="0.8" />
<rect x="761.3" y="212.48" width="19.4" height="18.2" fill="none" stroke="#231815" stroke-width="1.1" />
<circle cx="771" cy="221.58" r="8.9" fill="none" stroke="#231815" stroke-width="1.1"/>
<path d="M769.95,212.48V220.33H761.3M761.3,222.83H769.95V230.68M772.05,212.48V220.33H780.7M780.7,222.83H772.05V230.68" fill="none" stroke="#231815" stroke-width="0.8" />
<text transform="translate(727,225.55) scale(0.85,1)" x="0" y="0" font-size="11.5" fill="#231815" font-weight="bold" text-anchor="middle" stroke="#231815" stroke-width="0.58">29</text>
<text transform="translate(792.6,225.55) scale(0.85,1)" x="0" y="0" font-size="11.5" fill="#231815" font-weight="bold" text-anchor="middle" stroke="#231815" stroke-width="0.58">17</text>
<line x1="720.1" y1="234.3" x2="799.7" y2="234.3" stroke="#231815" stroke-width="1.2" />
<line x1="720.1" y1="252.5" x2="799.7" y2="252.5" stroke="#231815" stroke-width="1.2" />
<line x1="734.2" y1="234.3" x2="734.2" y2="252.5" stroke="#231815" stroke-width="1.2" />
<line x1="785.5" y1="234.3" x2="785.5" y2="252.5" stroke="#231815" stroke-width="1.2" />
<rect x="739.1" y="234.3" width="19.4" height="18.2" fill="none" stroke="#231815" stroke-width="1.1" />
<circle cx="748.8" cy="243.4" r="8.9" fill="none" stroke="#231815" stroke-width="1.1"/>
<path d="M747.75,234.3V242.15H739.1M739.1,244.65H747.75V252.5M749.85,234.3V242.15H758.5M758.5,244.65H749.85V252.5" fill="none" stroke="#231815" stroke-width="0.8" />
<rect x="761.3" y="234.3" width="19.4" height="18.2" fill="none" stroke="#231815" stroke-width="1.1" />
<circle cx="771" cy="243.4" r="8.9" fill="none" stroke="#231815" stroke-width="1.1"/>
<path d="M769.95,234.3V242.15H761.3M761.3,244.65H769.95V252.5M772.05,234.3V242.15H780.7M780.7,244.65H772.05V252.5" fill="none" stroke="#231815" stroke-width="0.8" />
<text transform="translate(727,246.37) scale(0.85,1)" x="0" y="0" font-size="11.5" fill="#231815" font-weight="bold" text-anchor="middle" stroke="#231815" stroke-width="0.58">30</text>
<text transform="translate(792.6,247.37) scale(0.85,1)" x="0" y="0" font-size="11.5" fill="#231815" font-weight="bold" text-anchor="middle" stroke="#231815" stroke-width="0.58">18</text>
<line x1="720.1" y1="256.12" x2="799.7" y2="256.12" stroke="#231815" stroke-width="1.2" />
<line x1="720.1" y1="274.32" x2="799.7" y2="274.32" stroke="#231815" stroke-width="1.2" />
<line x1="734.2" y1="256.12" x2="734.2" y2="274.32" stroke="#231815" stroke-width="1.2" />
<line x1="785.5" y1="256.12" x2="785.5" y2="274.32" stroke="#231815" stroke-width="1.2" />
<rect x="739.1" y="256.12" width="19.4" height="18.2" fill="none" stroke="#231815" stroke-width="1.1" />
<circle cx="748.8" cy="265.22" r="8.9" fill="none" stroke="#231815" stroke-width="1.1"/>
<path d="M747.75,256.12V263.97H739.1M739.1,266.47H747.75V274.32M749.85,256.12V263.97H758.5M758.5,266.47H749.85V274.32" fill="none" stroke="#231815" stroke-width="0.8" />
<rect x="761.3" y="256.12" width="19.4" height="18.2" fill="none" stroke="#231815" stroke-width="1.1" />
<circle cx="771" cy="265.22" r="8.9" fill="none" stroke="#231815" stroke-width="1.1"/>
<path d="M769.95,256.12V263.97H761.3M761.3,266.47H769.95V274.32M772.05,256.12V263.97H780.7M780.7,266.47H772.05V274.32" fill="none" stroke="#231815" stroke-width="0.8" />
<text transform="translate(727,269.19) scale(0.85,1)" x="0" y="0" font-size="11.5" fill="#231815" font-weight="bold" text-anchor="middle" stroke="#231815" stroke-width="0.58">31</text>
<text transform="translate(792.6,269.19) scale(0.85,1)" x="0" y="0" font-size="11.5" fill="#231815" font-weight="bold" text-anchor="middle" stroke="#231815" stroke-width="0.58">19</text>
<line x1="720.1" y1="277.94" x2="799.7" y2="277.94" stroke="#231815" stroke-width="1.2" />
<line x1="720.1" y1="296.14" x2="799.7" y2="296.14" stroke="#231815" stroke-width="1.2" />
<line x1="734.2" y1="277.94" x2="734.2" y2="296.14" stroke="#231815" stroke-width="1.2" />
<line x1="785.5" y1="277.94" x2="785.5" y2="296.14" stroke="#231815" stroke-width="1.2" />
<rect x="739.1" y="277.94" width="19.4" height="18.2" fill="none" stroke="#231815" stroke-width="1.1" />
<circle cx="748.8" cy="287.04" r="8.9" fill="none" stroke="#231815" stroke-width="1.1"/>
<path d="M747.75,277.94V285.79H739.1M739.1,288.29H747.75V296.14M749.85,277.94V285.79H758.5M758.5,288.29H749.85V296.14" fill="none" stroke="#231815" stroke-width="0.8" />
<rect x="761.3" y="277.94" width="19.4" height="18.2" fill="none" stroke="#231815" stroke-width="1.1" />
<circle cx="771" cy="287.04" r="8.9" fill="none" stroke="#231815" stroke-width="1.1"/>
<path d="M769.95,277.94V285.79H761.3M761.3,288.29H769.95V296.14M772.05,277.94V285.79H780.7M780.7,288.29H772.05V296.14" fill="none" stroke="#231815" stroke-width="0.8" />
<text transform="translate(727,291.01) scale(0.85,1)" x="0" y="0" font-size="11.5" fill="#231815" font-weight="bold" text-anchor="middle" stroke="#231815" stroke-width="0.58">32</text>
<text transform="translate(792.6,291.01) scale(0.85,1)" x="0" y="0" font-size="11.5" fill="#231815" font-weight="bold" text-anchor="middle" stroke="#231815" stroke-width="0.58">20</text>
<line x1="720.1" y1="299.76" x2="799.7" y2="299.76" stroke="#231815" stroke-width="1.2" />
<line x1="720.1" y1="317.96" x2="799.7" y2="317.96" stroke="#231815" stroke-width="1.2" />
<line x1="734.2" y1="299.76" x2="734.2" y2="317.96" stroke="#231815" stroke-width="1.2" />
<line x1="785.5" y1="299.76" x2="785.5" y2="317.96" stroke="#231815" stroke-width="1.2" />
<rect x="739.1" y="299.76" width="19.4" height="18.2" fill="none" stroke="#231815" stroke-width="1.1" />
<circle cx="748.8" cy="308.86" r="8.9" fill="none" stroke="#231815" stroke-width="1.1"/>
<path d="M747.75,299.76V307.61H739.1M739.1,310.11H747.75V317.96M749.85,299.76V307.61H758.5M758.5,310.11H749.85V317.96" fill="none" stroke="#231815" stroke-width="0.8" />
<rect x="761.3" y="299.76" width="19.4" height="18.2" fill="none" stroke="#231815" stroke-width="1.1" />
<circle cx="771" cy="308.86" r="8.9" fill="none" stroke="#231815" stroke-width="1.1"/>
<path d="M769.95,299.76V307.61H761.3M761.3,310.11H769.95V317.96M772.05,299.76V307.61H780.7M780.7,310.11H772.05V317.96" fill="none" stroke="#231815" stroke-width="0.8" />
<text transform="translate(727,312.83) scale(0.85,1)" x="0" y="0" font-size="11.5" fill="#231815" font-weight="bold" text-anchor="middle" stroke="#231815" stroke-width="0.58">33</text>
<text transform="translate(792.6,312.83) scale(0.85,1)" x="0" y="0" font-size="11.5" fill="#231815" font-weight="bold" text-anchor="middle" stroke="#231815" stroke-width="0.58">21</text>
<line x1="720.1" y1="321.58" x2="799.7" y2="321.58" stroke="#231815" stroke-width="1.2" />
<line x1="720.1" y1="339.78" x2="799.7" y2="339.78" stroke="#231815" stroke-width="1.2" />
<line x1="734.2" y1="321.58" x2="734.2" y2="339.78" stroke="#231815" stroke-width="1.2" />
<line x1="785.5" y1="321.58" x2="785.5" y2="339.78" stroke="#231815" stroke-width="1.2" />
<rect x="739.1" y="321.58" width="19.4" height="18.2" fill="none" stroke="#231815" stroke-width="1.1" />
<circle cx="748.8" cy="330.68" r="8.9" fill="none" stroke="#231815" stroke-width="1.1"/>
<path d="M747.75,321.58V329.43H739.1M739.1,331.93H747.75V339.78M749.85,321.58V329.43H758.5M758.5,331.93H749.85V339.78" fill="none" stroke="#231815" stroke-width="0.8" />
<rect x="761.3" y="321.58" width="19.4" height="18.2" fill="none" stroke="#231815" stroke-width="1.1" />
<circle cx="771" cy="330.68" r="8.9" fill="none" stroke="#231815" stroke-width="1.1"/>
<path d="M769.95,321.58V329.43H761.3M761.3,331.93H769.95V339.78M772.05,321.58V329.43H780.7M780.7,331.93H772.05V339.78" fill="none" stroke="#231815" stroke-width="0.8" />
<text transform="translate(727,334.65) scale(0.85,1)" x="0" y="0" font-size="11.5" fill="#231815" font-weight="bold" text-anchor="middle" stroke="#231815" stroke-width="0.58">34</text>
<text transform="translate(792.6,334.65) scale(0.85,1)" x="0" y="0" font-size="11.5" fill="#231815" font-weight="bold" text-anchor="middle" stroke="#231815" stroke-width="0.58">22</text>
<line x1="720.1" y1="343.4" x2="799.7" y2="343.4" stroke="#231815" stroke-width="1.2" />
<line x1="720.1" y1="361.6" x2="799.7" y2="361.6" stroke="#231815" stroke-width="1.2" />
<line x1="734.2" y1="343.4" x2="734.2" y2="361.6" stroke="#231815" stroke-width="1.2" />
<line x1="785.5" y1="343.4" x2="785.5" y2="361.6" stroke="#231815" stroke-width="1.2" />
<rect x="739.1" y="343.4" width="19.4" height="18.2" fill="none" stroke="#231815" stroke-width="1.1" />
<circle cx="748.8" cy="352.5" r="8.9" fill="none" stroke="#231815" stroke-width="1.1"/>
<path d="M747.75,343.4V351.25H739.1M739.1,353.75H747.75V361.6M749.85,343.4V351.25H758.5M758.5,353.75H749.85V361.6" fill="none" stroke="#231815" stroke-width="0.8" />
<rect x="761.3" y="343.4" width="19.4" height="18.2" fill="none" stroke="#231815" stroke-width="1.1" />
<circle cx="771" cy="352.5" r="8.9" fill="none" stroke="#231815" stroke-width="1.1"/>
<path d="M769.95,343.4V351.25H761.3M761.3,353.75H769.95V361.6M772.05,343.4V351.25H780.7M780.7,353.75H772.05V361.6" fill="none" stroke="#231815" stroke-width="0.8" />
<text transform="translate(727,356.47) scale(0.85,1)" x="0" y="0" font-size="11.5" fill="#231815" font-weight="bold" text-anchor="middle" stroke="#231815" stroke-width="0.58">35</text>
<text transform="translate(792.6,356.47) scale(0.85,1)" x="0" y="0" font-size="11.5" fill="#231815" font-weight="bold" text-anchor="middle" stroke="#231815" stroke-width="0.58">23</text>
<line x1="720.1" y1="365.22" x2="799.7" y2="365.22" stroke="#231815" stroke-width="1.2" />
<line x1="720.1" y1="383.42" x2="799.7" y2="383.42" stroke="#231815" stroke-width="1.2" />
<line x1="734.2" y1="365.22" x2="734.2" y2="383.42" stroke="#231815" stroke-width="1.2" />
<line x1="785.5" y1="365.22" x2="785.5" y2="383.42" stroke="#231815" stroke-width="1.2" />
<rect x="739.1" y="365.22" width="19.4" height="18.2" fill="none" stroke="#231815" stroke-width="1.1" />
<circle cx="748.8" cy="374.32" r="8.9" fill="none" stroke="#231815" stroke-width="1.1"/>
<path d="M747.75,365.22V373.07H739.1M739.1,375.57H747.75V383.42M749.85,365.22V373.07H758.5M758.5,375.57H749.85V383.42" fill="none" stroke="#231815" stroke-width="0.8" />
<rect x="761.3" y="365.22" width="19.4" height="18.2" fill="none" stroke="#231815" stroke-width="1.1" />
<circle cx="771" cy="374.32" r="8.9" fill="none" stroke="#231815" stroke-width="1.1"/>
<path d="M769.95,365.22V373.07H761.3M761.3,375.57H769.95V383.42M772.05,365.22V373.07H780.7M780.7,375.57H772.05V383.42" fill="none" stroke="#231815" stroke-width="0.8" />
<text transform="translate(727,378.29) scale(0.85,1)" x="0" y="0" font-size="11.5" fill="#231815" font-weight="bold" text-anchor="middle" stroke="#231815" stroke-width="0.58">36</text>
<text transform="translate(792.6,378.29) scale(0.85,1)" x="0" y="0" font-size="11.5" fill="#231815" font-weight="bold" text-anchor="middle" stroke="#231815" stroke-width="0.58">24</text>
<text x="665.3" y="134.5" font-size="10" fill="#231815" font-weight="normal" text-anchor="start" stroke="#231815" stroke-width="0.45">控制输出</text>
<text transform="translate(715.8,135.25) scale(0.85,1)" x="0" y="0" font-size="10" fill="#231815" font-weight="normal" text-anchor="end" stroke="#231815" stroke-width="0.45">T</text>
<text transform="translate(715.8,169.85) scale(0.85,1)" x="0" y="0" font-size="10" fill="#231815" font-weight="normal" text-anchor="end" stroke="#231815" stroke-width="0.45">G</text>
<text transform="translate(715.8,181.45) scale(0.85,1)" x="0" y="0" font-size="10" fill="#231815" font-weight="normal" text-anchor="end" stroke="#231815" stroke-width="0.45">T</text>
<text transform="translate(715.8,214.85) scale(0.85,1)" x="0" y="0" font-size="10" fill="#231815" font-weight="normal" text-anchor="end" stroke="#231815" stroke-width="0.45">G</text>
<text transform="translate(715.8,225.65) scale(0.85,1)" x="0" y="0" font-size="10" fill="#231815" font-weight="normal" text-anchor="end" stroke="#231815" stroke-width="0.45">T</text>
<text transform="translate(715.8,258.45) scale(0.85,1)" x="0" y="0" font-size="10" fill="#231815" font-weight="normal" text-anchor="end" stroke="#231815" stroke-width="0.45">G</text>
<text transform="translate(716.4,153.08) scale(0.8,1)" x="0" y="0" font-size="9.8" fill="#231815" font-weight="normal" text-anchor="end" stroke="#231815" stroke-width="0.4">SCR1</text>
<text transform="translate(716.4,197.98) scale(0.8,1)" x="0" y="0" font-size="9.8" fill="#231815" font-weight="normal" text-anchor="end" stroke="#231815" stroke-width="0.4">SCR2</text>
<text transform="translate(716.4,240.88) scale(0.8,1)" x="0" y="0" font-size="9.8" fill="#231815" font-weight="normal" text-anchor="end" stroke="#231815" stroke-width="0.4">SCR3</text>
<g transform="translate(370.1,-700.6) scale(0.63)" fill="none" stroke="#3a3030" stroke-width="1.5">
<path d="M789,1366.5 C771,1366 771,1347.3 790,1347.3 L857,1347.3" stroke-dasharray="1 2.4"/>
<circle cx="793" cy="1366.5" r="3.3"/><circle cx="793" cy="1366.5" r="1.4"/>
<circle cx="860.8" cy="1347.3" r="3.3"/><circle cx="860.8" cy="1347.3" r="1.4"/>
<path d="M795.5,1369 L803,1375.5 M863.3,1350 L871,1356.5"/>
<path d="M803.5,1375 Q803.5,1368 810,1368 Q816.5,1368 816.5,1375 Z M806,1369.5 L810,1373.5 L814,1369.5"/>
<rect x="802.6" y="1374.7" width="29.9" height="5.7"/>
<rect x="796.2" y="1380.4" width="36.3" height="33.1"/>
<rect x="784.5" y="1380.4" width="10.9" height="33.1" rx="3.5"/>
<path d="M785,1391.5 H795 M785,1402.5 H795"/>
<path d="M832.5,1367.5 C839,1385 839,1410 832.5,1428 H903.6 V1412" fill="#e5e5e5"/>
<g transform="translate(829.3,1350) rotate(33.8)">
<path d="M5,0 C5,-7 10,-9.6 19,-9.6 L88,-9.6 C96,-9.6 100,-6 103,0" fill="#e5e5e5"/>
<rect x="-1" y="0" width="111.5" height="12.4" rx="2.5" fill="#e5e5e5"/>
<path d="M5,0 V12.4 M104.5,0 V12.4"/>
<path d="M6.5,1.3 Q14.7,-1.6 22.8,1.3 L22.8,11.1 Q14.7,14 6.5,11.1 Z" stroke-width="1.35"/>
<path d="M22.8,1.3 Q31.0,-1.6 39.1,1.3 L39.1,11.1 Q31.0,14 22.8,11.1 Z" stroke-width="1.35"/>
<path d="M39.1,1.3 Q47.2,-1.6 55.4,1.3 L55.4,11.1 Q47.2,14 39.1,11.1 Z" stroke-width="1.35"/>
<path d="M55.4,1.3 Q63.6,-1.6 71.7,1.3 L71.7,11.1 Q63.6,14 55.4,11.1 Z" stroke-width="1.35"/>
<path d="M71.7,1.3 Q79.9,-1.6 88.0,1.3 L88.0,11.1 Q79.9,14 71.7,11.1 Z" stroke-width="1.35"/>
<path d="M88.0,1.3 Q96.2,-1.6 104.3,1.3 L104.3,11.1 Q96.2,14 88.0,11.1 Z" stroke-width="1.35"/>
<rect x="60" y="-17.5" width="11" height="7.9" fill="#e5e5e5"/>
<path d="M36,-9.6 Q36,-19 43,-19 Q50,-19 50,-9.6 Z M39,-17 L43,-12.5 L47,-17" fill="#e5e5e5"/>
</g>
<path d="M832.5,1428 L847.9,1444.2 M903.6,1428 L888.3,1444.2 M844.6,1428 L851.1,1444.2 M883.4,1428 L878.6,1444.2"/>
<rect x="847" y="1444.2" width="41.6" height="22.2"/>
<path d="M851.1,1444.2 V1466.4 M878.6,1444.2 V1466.4"/>
<rect x="878.9" y="1447.5" width="9.1" height="15.3"/>
<circle cx="882.6" cy="1455" r="1.2" fill="#3a3030"/>
<path d="M855.2,1466.4 V1651.5 M878.6,1466.4 V1651.5 M859.7,1466.4 V1651.5 M864.4,1466.4 V1651.5 M871.3,1466.4 V1651.5"/>
<path d="M855.2,1651.5 Q858,1654.0 862,1652.5 Q866,1650.5 868,1653.0 Q873,1654.5 878.6,1651.5" />
<path d="M855.2,1658 Q858,1655.5 862,1657 Q866,1659 868,1656.5 Q873,1655 878.6,1658" />
<path d="M855.2,1658 V1713.8 A11.7,11.7 0 0 0 878.6,1713.8 V1658"/>
<path d="M859.6,1658 V1715 H871.4 V1710.5 L873.5,1708.5 L869.5,1706 L873.5,1703.5 L869.5,1701 L873.5,1698.5 L871.4,1696.5 V1658 M864.3,1658 V1715"/>
<path d="M850.3,1417.2 L859.7,1428 V1466.4 M863.2,1417.2 L864.4,1428 V1466.4 M877.5,1417.2 L871.3,1428 V1466.4"/>
</g>
<polyline points="820,176.3 913.2,176.3 922.8,192.2" fill="none" stroke="#e4007f" stroke-width="1.6" stroke-linejoin="miter" />
<polyline points="830,180.1 907.5,180.1 913.9,192.2" fill="none" stroke="#00a0e9" stroke-width="1.6" stroke-linejoin="miter" />
<polyline points="840.2,184.2 902.6,184.2 905.8,192.2" fill="none" stroke="#00a0e9" stroke-width="1.6" stroke-linejoin="miter" />
<g transform="translate(370.1,-700.6) scale(0.63)">
<circle cx="850.3" cy="1417.2" r="2.7" fill="#231815"/>
<circle cx="863.2" cy="1417.2" r="2.7" fill="#231815"/>
<circle cx="877.5" cy="1417.2" r="2.7" fill="#231815"/>
</g>
<line x1="759.2" y1="407.3" x2="920.9" y2="407.3" stroke="#8a8a8a" stroke-width="1.3" stroke-dasharray="11.3 11.5" stroke-dashoffset="5.65"/>
<line x1="920.9" y1="407.3" x2="920.9" y2="548.1" stroke="#8a8a8a" stroke-width="1.3" stroke-dasharray="11.3 11.5" stroke-dashoffset="5.65"/>
<line x1="920.9" y1="548.1" x2="759.2" y2="548.1" stroke="#8a8a8a" stroke-width="1.3" stroke-dasharray="11.3 11.5" stroke-dashoffset="5.65"/>
<line x1="759.2" y1="548.1" x2="759.2" y2="407.3" stroke="#8a8a8a" stroke-width="1.3" stroke-dasharray="11.3 11.5" stroke-dashoffset="5.65"/>
<text x="767.3" y="424.3" font-size="10" fill="#231815" font-weight="normal" text-anchor="start" stroke="#231815" stroke-width="0.45">工作电源</text>
<text x="767.3" y="483" font-size="10" fill="#231815" font-weight="normal" text-anchor="start" stroke="#231815" stroke-width="0.45">热电阻输入</text>
<text x="851" y="424.3" font-size="10" fill="#231815" font-weight="normal" text-anchor="start" stroke="#231815" stroke-width="0.45">控制输出</text>
<text transform="translate(895.5,424.18) scale(0.78,1)" x="0" y="0" font-size="9.8" fill="#231815" font-weight="normal" text-anchor="start" stroke="#231815" stroke-width="0.35">OUT</text>
<line x1="768.1" y1="429.5" x2="798.4" y2="429.5" stroke="#231815" stroke-width="1.1" />
<line x1="768.1" y1="444.1" x2="798.4" y2="444.1" stroke="#231815" stroke-width="1.1" />
<line x1="779.4" y1="429.5" x2="779.4" y2="444.1" stroke="#231815" stroke-width="1.1" />
<rect x="783.4" y="429.5" width="15" height="14.6" fill="none" stroke="#231815" stroke-width="1.1" />
<circle cx="790.9" cy="436.8" r="7.1" fill="none" stroke="#231815" stroke-width="1.1"/>
<path d="M790.02,429.5V435.83H783.4M783.4,437.77H790.02V444.1M791.78,429.5V435.83H798.4M798.4,437.77H791.78V444.1" fill="none" stroke="#231815" stroke-width="0.9900000000000001" />
<text transform="translate(773.75,439.73) scale(0.85,1)" x="0" y="0" font-size="8.5" fill="#231815" font-weight="bold" text-anchor="middle" stroke="#231815" stroke-width="0.43">11</text>
<line x1="798.4" y1="437.4" x2="814" y2="437.4" stroke="#231815" stroke-width="1.1" />
<circle cx="815.8" cy="437.4" r="1.8" fill="#e5e5e5" stroke="#231815" stroke-width="1.0"/>
<line x1="768.1" y1="447.1" x2="798.4" y2="447.1" stroke="#231815" stroke-width="1.1" />
<line x1="768.1" y1="461.9" x2="798.4" y2="461.9" stroke="#231815" stroke-width="1.1" />
<line x1="779.4" y1="447.1" x2="779.4" y2="461.9" stroke="#231815" stroke-width="1.1" />
<rect x="783.4" y="447.1" width="15" height="14.8" fill="none" stroke="#231815" stroke-width="1.1" />
<circle cx="790.9" cy="454.5" r="7.2" fill="none" stroke="#231815" stroke-width="1.1"/>
<path d="M790.02,447.1V453.53H783.4M783.4,455.47H790.02V461.9M791.78,447.1V453.53H798.4M798.4,455.47H791.78V461.9" fill="none" stroke="#231815" stroke-width="0.9900000000000001" />
<text transform="translate(773.75,457.43) scale(0.85,1)" x="0" y="0" font-size="8.5" fill="#231815" font-weight="bold" text-anchor="middle" stroke="#231815" stroke-width="0.43">12</text>
<line x1="798.4" y1="454.9" x2="814" y2="454.9" stroke="#231815" stroke-width="1.1" />
<circle cx="815.8" cy="454.9" r="1.8" fill="#e5e5e5" stroke="#231815" stroke-width="1.0"/>
<text transform="translate(805.3,434.5) scale(0.85,1)" x="0" y="0" font-size="9" fill="#231815" font-weight="normal" text-anchor="start" stroke="#231815" stroke-width="0.3">L</text>
<text transform="translate(805.3,449.88) scale(0.82,1)" x="0" y="0" font-size="9.5" fill="#231815" font-weight="normal" text-anchor="start" stroke="#231815" stroke-width="0.25">AC220V</text>
<text transform="translate(805.3,464.71) scale(0.85,1)" x="0" y="0" font-size="9" fill="#231815" font-weight="normal" text-anchor="start" stroke="#231815" stroke-width="0.3">N</text>
<line x1="768.1" y1="488.6" x2="798.4" y2="488.6" stroke="#231815" stroke-width="1.1" />
<line x1="768.1" y1="504.1" x2="798.4" y2="504.1" stroke="#231815" stroke-width="1.1" />
<line x1="779.4" y1="488.6" x2="779.4" y2="504.1" stroke="#231815" stroke-width="1.1" />
<rect x="783.4" y="488.6" width="15" height="15.5" fill="none" stroke="#231815" stroke-width="1.1" />
<circle cx="790.9" cy="496.35" r="7.3" fill="none" stroke="#231815" stroke-width="1.1"/>
<path d="M790.02,488.6V495.38H783.4M783.4,497.32H790.02V504.1M791.78,488.6V495.38H798.4M798.4,497.32H791.78V504.1" fill="none" stroke="#231815" stroke-width="0.9900000000000001" />
<text transform="translate(773.75,499.63) scale(0.85,1)" x="0" y="0" font-size="9.5" fill="#231815" font-weight="bold" text-anchor="middle" stroke="#231815" stroke-width="0.48">22</text>
<line x1="768.1" y1="506.3" x2="798.4" y2="506.3" stroke="#231815" stroke-width="1.1" />
<line x1="768.1" y1="522.3" x2="798.4" y2="522.3" stroke="#231815" stroke-width="1.1" />
<line x1="779.4" y1="506.3" x2="779.4" y2="522.3" stroke="#231815" stroke-width="1.1" />
<rect x="783.4" y="506.3" width="15" height="16" fill="none" stroke="#231815" stroke-width="1.1" />
<circle cx="790.9" cy="514.3" r="7.3" fill="none" stroke="#231815" stroke-width="1.1"/>
<path d="M790.02,506.3V513.33H783.4M783.4,515.27H790.02V522.3M791.78,506.3V513.33H798.4M798.4,515.27H791.78V522.3" fill="none" stroke="#231815" stroke-width="0.9900000000000001" />
<text transform="translate(773.75,517.58) scale(0.85,1)" x="0" y="0" font-size="9.5" fill="#231815" font-weight="bold" text-anchor="middle" stroke="#231815" stroke-width="0.48">23</text>
<line x1="768.1" y1="524.5" x2="798.4" y2="524.5" stroke="#231815" stroke-width="1.1" />
<line x1="768.1" y1="540.5" x2="798.4" y2="540.5" stroke="#231815" stroke-width="1.1" />
<line x1="779.4" y1="524.5" x2="779.4" y2="540.5" stroke="#231815" stroke-width="1.1" />
<rect x="783.4" y="524.5" width="15" height="16" fill="none" stroke="#231815" stroke-width="1.1" />
<circle cx="790.9" cy="532.5" r="7.3" fill="none" stroke="#231815" stroke-width="1.1"/>
<path d="M790.02,524.5V531.53H783.4M783.4,533.47H790.02V540.5M791.78,524.5V531.53H798.4M798.4,533.47H791.78V540.5" fill="none" stroke="#231815" stroke-width="0.9900000000000001" />
<text transform="translate(773.75,535.78) scale(0.85,1)" x="0" y="0" font-size="9.5" fill="#231815" font-weight="bold" text-anchor="middle" stroke="#231815" stroke-width="0.48">24</text>
<polyline points="798.4,495.9 808.4,495.9 808.4,499.5" fill="none" stroke="#231815" stroke-width="1.1" stroke-linejoin="miter" />
<rect x="806.4" y="499.5" width="4" height="12.8" fill="#ffffff" stroke="#231815" stroke-width="1.1" />
<polyline points="808.4,512.3 808.4,531.4 798.4,531.4" fill="none" stroke="#231815" stroke-width="1.1" stroke-linejoin="miter" />
<polyline points="798.4,514.1 803.6,514.1 803.6,522.3 808.4,522.3" fill="none" stroke="#231815" stroke-width="1.1" stroke-linejoin="miter" />
<text transform="translate(812.7,516.13) scale(0.85,1)" x="0" y="0" font-size="8.5" fill="#231815" font-weight="normal" text-anchor="start" stroke="#231815" stroke-width="0.3">RTD</text>
<line x1="853.2" y1="430.5" x2="881.8" y2="430.5" stroke="#231815" stroke-width="1.1" />
<line x1="853.2" y1="444.5" x2="881.8" y2="444.5" stroke="#231815" stroke-width="1.1" />
<line x1="862.7" y1="430.5" x2="862.7" y2="444.5" stroke="#231815" stroke-width="1.1" />
<rect x="866.8" y="430.5" width="15" height="14" fill="none" stroke="#231815" stroke-width="1.1" />
<circle cx="874.3" cy="437.5" r="6.8" fill="none" stroke="#231815" stroke-width="1.1"/>
<path d="M873.42,430.5V436.53H866.8M866.8,438.47H873.42V444.5M875.18,430.5V436.53H881.8M881.8,438.47H875.18V444.5" fill="none" stroke="#231815" stroke-width="0.9900000000000001" />
<text transform="translate(857.6,440.43) scale(0.85,1)" x="0" y="0" font-size="8.5" fill="#231815" font-weight="bold" text-anchor="middle" stroke="#231815" stroke-width="0.43">25</text>
<line x1="881.8" y1="438.5" x2="893" y2="438.5" stroke="#231815" stroke-width="1.1" />
<circle cx="893.5" cy="438.5" r="1.1" fill="#231815"/>
<line x1="853.2" y1="446.8" x2="881.8" y2="446.8" stroke="#231815" stroke-width="1.1" />
<line x1="853.2" y1="461.4" x2="881.8" y2="461.4" stroke="#231815" stroke-width="1.1" />
<line x1="862.7" y1="446.8" x2="862.7" y2="461.4" stroke="#231815" stroke-width="1.1" />
<rect x="866.8" y="446.8" width="15" height="14.6" fill="none" stroke="#231815" stroke-width="1.1" />
<circle cx="874.3" cy="454.1" r="7.1" fill="none" stroke="#231815" stroke-width="1.1"/>
<path d="M873.42,446.8V453.13H866.8M866.8,455.07H873.42V461.4M875.18,446.8V453.13H881.8M881.8,455.07H875.18V461.4" fill="none" stroke="#231815" stroke-width="0.9900000000000001" />
<text transform="translate(857.6,457.03) scale(0.85,1)" x="0" y="0" font-size="8.5" fill="#231815" font-weight="bold" text-anchor="middle" stroke="#231815" stroke-width="0.43">26</text>
<line x1="881.8" y1="455.1" x2="893" y2="455.1" stroke="#231815" stroke-width="1.1" />
<circle cx="893.5" cy="455.1" r="1.1" fill="#231815"/>
<line x1="853.2" y1="467.4" x2="881.8" y2="467.4" stroke="#231815" stroke-width="1.1" />
<line x1="853.2" y1="481.9" x2="881.8" y2="481.9" stroke="#231815" stroke-width="1.1" />
<line x1="862.7" y1="467.4" x2="862.7" y2="481.9" stroke="#231815" stroke-width="1.1" />
<rect x="866.8" y="467.4" width="15" height="14.5" fill="none" stroke="#231815" stroke-width="1.1" />
<circle cx="874.3" cy="474.65" r="7.05" fill="none" stroke="#231815" stroke-width="1.1"/>
<path d="M873.42,467.4V473.68H866.8M866.8,475.62H873.42V481.9M875.18,467.4V473.68H881.8M881.8,475.62H875.18V481.9" fill="none" stroke="#231815" stroke-width="0.9900000000000001" />
<text transform="translate(857.6,477.58) scale(0.85,1)" x="0" y="0" font-size="8.5" fill="#231815" font-weight="bold" text-anchor="middle" stroke="#231815" stroke-width="0.43">27</text>
<line x1="881.8" y1="475.65" x2="893" y2="475.65" stroke="#231815" stroke-width="1.1" />
<circle cx="893.5" cy="475.65" r="1.1" fill="#231815"/>
<line x1="853.2" y1="484.1" x2="881.8" y2="484.1" stroke="#231815" stroke-width="1.1" />
<line x1="853.2" y1="498.6" x2="881.8" y2="498.6" stroke="#231815" stroke-width="1.1" />
<line x1="862.7" y1="484.1" x2="862.7" y2="498.6" stroke="#231815" stroke-width="1.1" />
<rect x="866.8" y="484.1" width="15" height="14.5" fill="none" stroke="#231815" stroke-width="1.1" />
<circle cx="874.3" cy="491.35" r="7.05" fill="none" stroke="#231815" stroke-width="1.1"/>
<path d="M873.42,484.1V490.38H866.8M866.8,492.32H873.42V498.6M875.18,484.1V490.38H881.8M881.8,492.32H875.18V498.6" fill="none" stroke="#231815" stroke-width="0.9900000000000001" />
<text transform="translate(857.6,494.28) scale(0.85,1)" x="0" y="0" font-size="8.5" fill="#231815" font-weight="bold" text-anchor="middle" stroke="#231815" stroke-width="0.43">28</text>
<line x1="881.8" y1="492.35" x2="893" y2="492.35" stroke="#231815" stroke-width="1.1" />
<circle cx="893.5" cy="492.35" r="1.1" fill="#231815"/>
<line x1="853.2" y1="504.1" x2="881.8" y2="504.1" stroke="#231815" stroke-width="1.1" />
<line x1="853.2" y1="518.3" x2="881.8" y2="518.3" stroke="#231815" stroke-width="1.1" />
<line x1="862.7" y1="504.1" x2="862.7" y2="518.3" stroke="#231815" stroke-width="1.1" />
<rect x="866.8" y="504.1" width="15" height="14.2" fill="none" stroke="#231815" stroke-width="1.1" />
<circle cx="874.3" cy="511.2" r="6.9" fill="none" stroke="#231815" stroke-width="1.1"/>
<path d="M873.42,504.1V510.23H866.8M866.8,512.17H873.42V518.3M875.18,504.1V510.23H881.8M881.8,512.17H875.18V518.3" fill="none" stroke="#231815" stroke-width="0.9900000000000001" />
<text transform="translate(857.6,514.13) scale(0.85,1)" x="0" y="0" font-size="8.5" fill="#231815" font-weight="bold" text-anchor="middle" stroke="#231815" stroke-width="0.43">29</text>
<line x1="881.8" y1="512.2" x2="893" y2="512.2" stroke="#231815" stroke-width="1.1" />
<circle cx="893.5" cy="512.2" r="1.1" fill="#231815"/>
<line x1="853.2" y1="521" x2="881.8" y2="521" stroke="#231815" stroke-width="1.1" />
<line x1="853.2" y1="535.4" x2="881.8" y2="535.4" stroke="#231815" stroke-width="1.1" />
<line x1="862.7" y1="521" x2="862.7" y2="535.4" stroke="#231815" stroke-width="1.1" />
<rect x="866.8" y="521" width="15" height="14.4" fill="none" stroke="#231815" stroke-width="1.1" />
<circle cx="874.3" cy="528.2" r="7" fill="none" stroke="#231815" stroke-width="1.1"/>
<path d="M873.42,521V527.23H866.8M866.8,529.17H873.42V535.4M875.18,521V527.23H881.8M881.8,529.17H875.18V535.4" fill="none" stroke="#231815" stroke-width="0.9900000000000001" />
<text transform="translate(857.6,531.13) scale(0.85,1)" x="0" y="0" font-size="8.5" fill="#231815" font-weight="bold" text-anchor="middle" stroke="#231815" stroke-width="0.43">30</text>
<line x1="881.8" y1="529.2" x2="893" y2="529.2" stroke="#231815" stroke-width="1.1" />
<circle cx="893.5" cy="529.2" r="1.1" fill="#231815"/>
<text transform="translate(889,436.43) scale(0.85,1)" x="0" y="0" font-size="8.5" fill="#231815" font-weight="normal" text-anchor="start" stroke="#231815" stroke-width="0.3">T</text>
<text transform="translate(895.5,448.78) scale(0.82,1)" x="0" y="0" font-size="9.5" fill="#231815" font-weight="normal" text-anchor="start" stroke="#231815" stroke-width="0.3">SCR1</text>
<text transform="translate(889,463.33) scale(0.85,1)" x="0" y="0" font-size="8.5" fill="#231815" font-weight="normal" text-anchor="start" stroke="#231815" stroke-width="0.3">G</text>
<text transform="translate(889,473.33) scale(0.85,1)" x="0" y="0" font-size="8.5" fill="#231815" font-weight="normal" text-anchor="start" stroke="#231815" stroke-width="0.3">T</text>
<text transform="translate(895.5,485.68) scale(0.82,1)" x="0" y="0" font-size="9.5" fill="#231815" font-weight="normal" text-anchor="start" stroke="#231815" stroke-width="0.3">SCR2</text>
<text transform="translate(889,500.53) scale(0.85,1)" x="0" y="0" font-size="8.5" fill="#231815" font-weight="normal" text-anchor="start" stroke="#231815" stroke-width="0.3">G</text>
<text transform="translate(889,510.03) scale(0.85,1)" x="0" y="0" font-size="8.5" fill="#231815" font-weight="normal" text-anchor="start" stroke="#231815" stroke-width="0.3">T</text>
<text transform="translate(895.5,522.38) scale(0.82,1)" x="0" y="0" font-size="9.5" fill="#231815" font-weight="normal" text-anchor="start" stroke="#231815" stroke-width="0.3">SCR2</text>
<text transform="translate(889,537.33) scale(0.85,1)" x="0" y="0" font-size="8.5" fill="#231815" font-weight="normal" text-anchor="start" stroke="#231815" stroke-width="0.3">G</text>
<text x="362.4" y="706.45" font-size="21" fill="#231815" font-weight="normal" text-anchor="start">2个单向可控硅反并联</text>
<text x="563.5" y="706.45" font-size="21" fill="#231815" font-weight="normal" text-anchor="start">（2和3短接）</text>
<line x1="32.9" y1="729.6" x2="969.8" y2="729.6" stroke="#8a8a8a" stroke-width="2" stroke-dasharray="21.3 21.3" stroke-dashoffset="10.65"/>
<circle cx="72.8" cy="781.3" r="5.6" fill="#e60012"/>
<text x="98.5" y="794.55" font-size="31" fill="#231815" font-weight="normal" text-anchor="start">正反转输出控制电路</text>
<text x="100.6" y="832.7" font-size="22.85" fill="#231815" font-weight="normal" text-anchor="start" stroke="#231815" stroke-width="0.7">此电路为简易示意图，不含电气保护，具体布线请在专业电工指导下进行；</text>
<text x="52.5" y="873.85" font-size="19" fill="#231815" font-weight="normal" text-anchor="start" stroke="#231815" stroke-width="0.3">电源端</text>
<text transform="translate(53.7,899.34) scale(0.85,1)" x="0" y="0" font-size="17.5" fill="#e60012" font-weight="normal" text-anchor="start">L</text>
<text transform="translate(53.7,941.24) scale(0.85,1)" x="0" y="0" font-size="17.5" fill="#231815" font-weight="normal" text-anchor="start">N</text>
<line x1="73.3" y1="894.9" x2="955" y2="894.9" stroke="#e60012" stroke-width="2.5" />
<line x1="73.3" y1="935" x2="955" y2="935" stroke="#231815" stroke-width="2.5" />
<polyline points="157.8,935 157.8,1687 281,1687" fill="none" stroke="#231815" stroke-width="2.4" stroke-linejoin="miter" />
<polyline points="157.8,1300.5 350.3,1300.5 350.3,1047.8 436,1047.8" fill="none" stroke="#231815" stroke-width="2.4" stroke-linejoin="miter" />
<polyline points="191.1,895 191.1,1658.5 281,1658.5" fill="none" stroke="#e60012" stroke-width="2.4" stroke-linejoin="miter" />
<polyline points="191.1,1335.1 352.7,1335.1 352.7,1410.3 483,1410.3" fill="none" stroke="#e60012" stroke-width="2.4" stroke-linejoin="miter" />
<polyline points="533,1399.4 483,1399.4 483,1418.5 533,1418.5" fill="none" stroke="#e60012" stroke-width="2.4" stroke-linejoin="miter" />
<polyline points="437.6,1034.7 328.6,1034.7 328.6,1446.1 534,1446.1" fill="none" stroke="#920783" stroke-width="2.4" stroke-linejoin="miter" />
<polyline points="434,1061.3 372.3,1061.3 372.3,1371.7 534.6,1371.7" fill="none" stroke="#920783" stroke-width="2.4" stroke-linejoin="miter" />
<circle cx="191.1" cy="895" r="6.5" fill="#e60012"/>
<circle cx="157.8" cy="935" r="6.5" fill="#231815"/>
<circle cx="157.9" cy="1299.9" r="6.5" fill="#231815"/>
<circle cx="191.2" cy="1335.1" r="6.5" fill="#e60012"/>
<circle cx="484.2" cy="1410.3" r="4.2" fill="#e60012"/>
<text x="393.9" y="1026.9" font-size="14" fill="#231815" font-weight="normal" text-anchor="start" stroke="#231815" stroke-width="0.25">反转</text>
<text x="393.9" y="1077.4" font-size="14" fill="#231815" font-weight="normal" text-anchor="start" stroke="#231815" stroke-width="0.25">正转</text>
<text x="458.8" y="1366" font-size="14" fill="#231815" font-weight="normal" text-anchor="start" stroke="#231815" stroke-width="0.25">正转</text>
<text x="462.6" y="1463.1" font-size="14" fill="#231815" font-weight="normal" text-anchor="start" stroke="#231815" stroke-width="0.25">反转</text>
<text x="786.3" y="1334.67" font-size="18.5" fill="#231815" font-weight="normal" text-anchor="start" stroke="#231815" stroke-width="0.3">三线制</text>
<text transform="translate(853.5,1334.71) scale(0.9,1)" x="0" y="0" font-size="17.7" fill="#231815" font-weight="normal" text-anchor="start">PT100</text>
<text transform="translate(621.5,1625.33) scale(0.85,1)" x="0" y="0" font-size="14" fill="#231815" font-weight="normal" text-anchor="start">A</text>
<text transform="translate(622.7,1655.33) scale(0.85,1)" x="0" y="0" font-size="14" fill="#231815" font-weight="normal" text-anchor="start">B</text>
<text transform="translate(622.7,1683.33) scale(0.85,1)" x="0" y="0" font-size="14" fill="#231815" font-weight="normal" text-anchor="start">B</text>
<g fill="#e5e5e5" stroke="#3a3030" stroke-width="1.2">
<rect x="456.2" y="998.8" width="29.6" height="6" rx="1"/>
<rect x="465" y="1004.8" width="12.6" height="9.7"/>
<rect x="466.3" y="1014.5" width="10" height="5"/>
<path d="M441,1019.4 H500 Q503,1019.4 503.3,1023 L509.1,1070.3 H433.5 L438.5,1023 Q439,1019.4 441,1019.4 Z"/>
<path d="M433.5,1070.3 H509.1 V1073.2 H433.5 Z"/>
<path d="M434.5,1073.2 L437.6,1084.1 H505.5 L508.2,1073.2 Z"/>
<rect x="443.9" y="1088" width="10.5" height="100.3"/>
<rect x="487.8" y="1088" width="10" height="100.3"/>
<path d="M442.8,1084.1 H460 V1088.9 H442.8 Z M481.5,1084.1 H498.9 V1088.9 H481.5 Z"/>
<path d="M460.4,1084.1 H481.4 L480,1117.8 H462.8 Z"/>
<rect x="464.4" y="1117.8" width="13.4" height="21.6"/>
<rect x="461.7" y="1139.4" width="18.9" height="11.7"/>
<rect x="461.7" y="1151.1" width="18.9" height="9.5"/>
<path d="M468.3,1160.6 L467.8,1180.6 H474.9 L474.4,1160.6 Z"/>
<rect x="463.9" y="1180.6" width="16.1" height="3.8"/>
<rect x="458.9" y="1184.4" width="25.5" height="3.8"/>
<path d="M484.2,1088.9 V1142.5 M486.7,1088.9 V1142.5 M480.6,1141.5 Q483,1140.5 484.2,1142 Q485.5,1143 486.7,1142" fill="none"/>
<rect x="443.2" y="1187.9" width="55.7" height="7.3" rx="1"/>
<rect x="444.7" y="1195.2" width="11.7" height="5.3"/>
<path d="M448.2,1195.2 V1200.5 M452.9,1195.2 V1200.5" fill="none"/>
<rect x="487.1" y="1195.2" width="11.0" height="5.3"/>
<path d="M490.6,1195.2 V1200.5 M494.6,1195.2 V1200.5" fill="none"/>
<path d="M435.1,1208.6 V1204 Q435.1,1202 437.1,1202 H445.6 Q447.6,1202 447.6,1204 V1208.6"/>
<path d="M438.6,1202 V1208.6 M444.1,1202 V1208.6" fill="none"/>
<path d="M495.9,1208.6 V1204 Q495.9,1202 497.9,1202 H505.6 Q507.6,1202 507.6,1204 V1208.6"/>
<path d="M499.4,1202 V1208.6 M504.1,1202 V1208.6" fill="none"/>
<rect x="457.5" y="1195.2" width="28.2" height="13.4"/>
<rect x="432.5" y="1208.6" width="78" height="9.8"/>
<rect x="433" y="1218.4" width="76.5" height="10.6"/>
<path d="M433,1218.6 H509.5" fill="none" stroke-width="1.8"/>
<path d="M418.7,1239.3 L435,1247.3 Q439,1248.5 439.8,1244 L440.6,1237.5 Q440.6,1233.5 437,1232 L433.4,1229.3" fill="none"/>
<path d="M418.7,1274.9 L455,1285.5 Q457.8,1287 457.8,1290 V1296.4 H486.1 V1290 Q486.1,1287 488.5,1284.5 L520,1271.8 L525.2,1273.5" fill="none"/>
<path d="M489,1283.5 Q495,1276 496.3,1268 Q497,1263 501,1262.5 Q504,1262.2 507,1264 L525.2,1273" fill="none"/>
<path d="M509.5,1229.3 Q508,1234.5 512.5,1235.8 L521,1238.6 Q524,1239 525.2,1237.5" fill="none"/>
<rect x="410.5" y="1216.3" width="8.2" height="80.1"/>
<rect x="525.2" y="1217.3" width="8.8" height="79.1"/>
</g>
<text x="442.4" y="983.95" font-size="19" fill="#231815" font-weight="normal" text-anchor="start" stroke="#231815" stroke-width="0.3">调节阀</text>
<line x1="248.3" y1="1349.9" x2="605.6" y2="1349.9" stroke="#231815" stroke-width="1.6" />
<line x1="248.3" y1="1349.9" x2="248.3" y2="1695.8" stroke="#231815" stroke-width="1.6" />
<line x1="248.3" y1="1695.8" x2="605.6" y2="1695.8" stroke="#231815" stroke-width="1.6" />
<line x1="605.6" y1="1349.9" x2="605.6" y2="1695.8" stroke="#231815" stroke-width="1.6" />
<line x1="248.3" y1="1353.3" x2="298.4" y2="1353.3" stroke="#231815" stroke-width="1.5" />
<line x1="248.3" y1="1377" x2="298.4" y2="1377" stroke="#231815" stroke-width="1.5" />
<line x1="266.7" y1="1353.3" x2="266.7" y2="1377" stroke="#231815" stroke-width="1.5" />
<rect x="273.5" y="1353.3" width="24.9" height="23.7" fill="none" stroke="#231815" stroke-width="1.4" />
<circle cx="285.95" cy="1365.15" r="11.65" fill="none" stroke="#231815" stroke-width="1.4"/>
<path d="M284.65,1353.3V1363.65H273.5M273.5,1366.65H284.65V1377M287.25,1353.3V1363.65H298.4M298.4,1366.65H287.25V1377" fill="none" stroke="#231815" stroke-width="1.26" />
<text transform="translate(257.6,1371.01) scale(0.85,1)" x="0" y="0" font-size="17" fill="#231815" font-weight="bold" text-anchor="middle" stroke="#231815" stroke-width="0.85">1</text>
<line x1="248.3" y1="1382.05" x2="298.4" y2="1382.05" stroke="#231815" stroke-width="1.5" />
<line x1="248.3" y1="1405.75" x2="298.4" y2="1405.75" stroke="#231815" stroke-width="1.5" />
<line x1="266.7" y1="1382.05" x2="266.7" y2="1405.75" stroke="#231815" stroke-width="1.5" />
<rect x="273.5" y="1382.05" width="24.9" height="23.7" fill="none" stroke="#231815" stroke-width="1.4" />
<circle cx="285.95" cy="1393.9" r="11.65" fill="none" stroke="#231815" stroke-width="1.4"/>
<path d="M284.65,1382.05V1392.4H273.5M273.5,1395.4H284.65V1405.75M287.25,1382.05V1392.4H298.4M298.4,1395.4H287.25V1405.75" fill="none" stroke="#231815" stroke-width="1.26" />
<text transform="translate(257.6,1399.76) scale(0.85,1)" x="0" y="0" font-size="17" fill="#231815" font-weight="bold" text-anchor="middle" stroke="#231815" stroke-width="0.85">2</text>
<line x1="248.3" y1="1410.8" x2="298.4" y2="1410.8" stroke="#231815" stroke-width="1.5" />
<line x1="248.3" y1="1434.5" x2="298.4" y2="1434.5" stroke="#231815" stroke-width="1.5" />
<line x1="266.7" y1="1410.8" x2="266.7" y2="1434.5" stroke="#231815" stroke-width="1.5" />
<rect x="273.5" y="1410.8" width="24.9" height="23.7" fill="none" stroke="#231815" stroke-width="1.4" />
<circle cx="285.95" cy="1422.65" r="11.65" fill="none" stroke="#231815" stroke-width="1.4"/>
<path d="M284.65,1410.8V1421.15H273.5M273.5,1424.15H284.65V1434.5M287.25,1410.8V1421.15H298.4M298.4,1424.15H287.25V1434.5" fill="none" stroke="#231815" stroke-width="1.26" />
<text transform="translate(257.6,1428.51) scale(0.85,1)" x="0" y="0" font-size="17" fill="#231815" font-weight="bold" text-anchor="middle" stroke="#231815" stroke-width="0.85">3</text>
<line x1="248.3" y1="1439.55" x2="298.4" y2="1439.55" stroke="#231815" stroke-width="1.5" />
<line x1="248.3" y1="1463.25" x2="298.4" y2="1463.25" stroke="#231815" stroke-width="1.5" />
<line x1="266.7" y1="1439.55" x2="266.7" y2="1463.25" stroke="#231815" stroke-width="1.5" />
<rect x="273.5" y="1439.55" width="24.9" height="23.7" fill="none" stroke="#231815" stroke-width="1.4" />
<circle cx="285.95" cy="1451.4" r="11.65" fill="none" stroke="#231815" stroke-width="1.4"/>
<path d="M284.65,1439.55V1449.9H273.5M273.5,1452.9H284.65V1463.25M287.25,1439.55V1449.9H298.4M298.4,1452.9H287.25V1463.25" fill="none" stroke="#231815" stroke-width="1.26" />
<text transform="translate(257.6,1457.26) scale(0.85,1)" x="0" y="0" font-size="17" fill="#231815" font-weight="bold" text-anchor="middle" stroke="#231815" stroke-width="0.85">4</text>
<line x1="248.3" y1="1468.3" x2="298.4" y2="1468.3" stroke="#231815" stroke-width="1.5" />
<line x1="248.3" y1="1492" x2="298.4" y2="1492" stroke="#231815" stroke-width="1.5" />
<line x1="266.7" y1="1468.3" x2="266.7" y2="1492" stroke="#231815" stroke-width="1.5" />
<rect x="273.5" y="1468.3" width="24.9" height="23.7" fill="none" stroke="#231815" stroke-width="1.4" />
<circle cx="285.95" cy="1480.15" r="11.65" fill="none" stroke="#231815" stroke-width="1.4"/>
<path d="M284.65,1468.3V1478.65H273.5M273.5,1481.65H284.65V1492M287.25,1468.3V1478.65H298.4M298.4,1481.65H287.25V1492" fill="none" stroke="#231815" stroke-width="1.26" />
<text transform="translate(257.6,1486.01) scale(0.85,1)" x="0" y="0" font-size="17" fill="#231815" font-weight="bold" text-anchor="middle" stroke="#231815" stroke-width="0.85">5</text>
<line x1="248.3" y1="1497.05" x2="298.4" y2="1497.05" stroke="#231815" stroke-width="1.5" />
<line x1="248.3" y1="1520.75" x2="298.4" y2="1520.75" stroke="#231815" stroke-width="1.5" />
<line x1="266.7" y1="1497.05" x2="266.7" y2="1520.75" stroke="#231815" stroke-width="1.5" />
<rect x="273.5" y="1497.05" width="24.9" height="23.7" fill="none" stroke="#231815" stroke-width="1.4" />
<circle cx="285.95" cy="1508.9" r="11.65" fill="none" stroke="#231815" stroke-width="1.4"/>
<path d="M284.65,1497.05V1507.4H273.5M273.5,1510.4H284.65V1520.75M287.25,1497.05V1507.4H298.4M298.4,1510.4H287.25V1520.75" fill="none" stroke="#231815" stroke-width="1.26" />
<text transform="translate(257.6,1514.76) scale(0.85,1)" x="0" y="0" font-size="17" fill="#231815" font-weight="bold" text-anchor="middle" stroke="#231815" stroke-width="0.85">6</text>
<line x1="248.3" y1="1525.8" x2="298.4" y2="1525.8" stroke="#231815" stroke-width="1.5" />
<line x1="248.3" y1="1549.5" x2="298.4" y2="1549.5" stroke="#231815" stroke-width="1.5" />
<line x1="266.7" y1="1525.8" x2="266.7" y2="1549.5" stroke="#231815" stroke-width="1.5" />
<rect x="273.5" y="1525.8" width="24.9" height="23.7" fill="none" stroke="#231815" stroke-width="1.4" />
<circle cx="285.95" cy="1537.65" r="11.65" fill="none" stroke="#231815" stroke-width="1.4"/>
<path d="M284.65,1525.8V1536.15H273.5M273.5,1539.15H284.65V1549.5M287.25,1525.8V1536.15H298.4M298.4,1539.15H287.25V1549.5" fill="none" stroke="#231815" stroke-width="1.26" />
<text transform="translate(257.6,1543.51) scale(0.85,1)" x="0" y="0" font-size="17" fill="#231815" font-weight="bold" text-anchor="middle" stroke="#231815" stroke-width="0.85">7</text>
<line x1="248.3" y1="1554.55" x2="298.4" y2="1554.55" stroke="#231815" stroke-width="1.5" />
<line x1="248.3" y1="1578.25" x2="298.4" y2="1578.25" stroke="#231815" stroke-width="1.5" />
<line x1="266.7" y1="1554.55" x2="266.7" y2="1578.25" stroke="#231815" stroke-width="1.5" />
<rect x="273.5" y="1554.55" width="24.9" height="23.7" fill="none" stroke="#231815" stroke-width="1.4" />
<circle cx="285.95" cy="1566.4" r="11.65" fill="none" stroke="#231815" stroke-width="1.4"/>
<path d="M284.65,1554.55V1564.9H273.5M273.5,1567.9H284.65V1578.25M287.25,1554.55V1564.9H298.4M298.4,1567.9H287.25V1578.25" fill="none" stroke="#231815" stroke-width="1.26" />
<text transform="translate(257.6,1572.26) scale(0.85,1)" x="0" y="0" font-size="17" fill="#231815" font-weight="bold" text-anchor="middle" stroke="#231815" stroke-width="0.85">8</text>
<line x1="248.3" y1="1583.3" x2="298.4" y2="1583.3" stroke="#231815" stroke-width="1.5" />
<line x1="248.3" y1="1607" x2="298.4" y2="1607" stroke="#231815" stroke-width="1.5" />
<line x1="266.7" y1="1583.3" x2="266.7" y2="1607" stroke="#231815" stroke-width="1.5" />
<rect x="273.5" y="1583.3" width="24.9" height="23.7" fill="none" stroke="#231815" stroke-width="1.4" />
<circle cx="285.95" cy="1595.15" r="11.65" fill="none" stroke="#231815" stroke-width="1.4"/>
<path d="M284.65,1583.3V1593.65H273.5M273.5,1596.65H284.65V1607M287.25,1583.3V1593.65H298.4M298.4,1596.65H287.25V1607" fill="none" stroke="#231815" stroke-width="1.26" />
<text transform="translate(257.6,1601.01) scale(0.85,1)" x="0" y="0" font-size="17" fill="#231815" font-weight="bold" text-anchor="middle" stroke="#231815" stroke-width="0.85">9</text>
<line x1="248.3" y1="1612.05" x2="298.4" y2="1612.05" stroke="#231815" stroke-width="1.5" />
<line x1="248.3" y1="1635.75" x2="298.4" y2="1635.75" stroke="#231815" stroke-width="1.5" />
<line x1="266.7" y1="1612.05" x2="266.7" y2="1635.75" stroke="#231815" stroke-width="1.5" />
<rect x="273.5" y="1612.05" width="24.9" height="23.7" fill="none" stroke="#231815" stroke-width="1.4" />
<circle cx="285.95" cy="1623.9" r="11.65" fill="none" stroke="#231815" stroke-width="1.4"/>
<path d="M284.65,1612.05V1622.4H273.5M273.5,1625.4H284.65V1635.75M287.25,1612.05V1622.4H298.4M298.4,1625.4H287.25V1635.75" fill="none" stroke="#231815" stroke-width="1.26" />
<text transform="translate(257.9,1629.76) scale(0.72,1)" x="0" y="0" font-size="17" fill="#231815" font-weight="bold" text-anchor="middle" stroke="#231815" stroke-width="0.85">10</text>
<line x1="248.3" y1="1640.8" x2="298.4" y2="1640.8" stroke="#231815" stroke-width="1.5" />
<line x1="248.3" y1="1664.5" x2="298.4" y2="1664.5" stroke="#231815" stroke-width="1.5" />
<line x1="266.7" y1="1640.8" x2="266.7" y2="1664.5" stroke="#231815" stroke-width="1.5" />
<rect x="273.5" y="1640.8" width="24.9" height="23.7" fill="none" stroke="#231815" stroke-width="1.4" />
<circle cx="285.95" cy="1652.65" r="11.65" fill="none" stroke="#231815" stroke-width="1.4"/>
<path d="M284.65,1640.8V1651.15H273.5M273.5,1654.15H284.65V1664.5M287.25,1640.8V1651.15H298.4M298.4,1654.15H287.25V1664.5" fill="none" stroke="#231815" stroke-width="1.26" />
<text transform="translate(257.9,1656.31) scale(0.72,1)" x="0" y="0" font-size="17" fill="#231815" font-weight="bold" text-anchor="middle" stroke="#231815" stroke-width="0.85">11</text>
<line x1="248.3" y1="1669.55" x2="298.4" y2="1669.55" stroke="#231815" stroke-width="1.5" />
<line x1="248.3" y1="1693.25" x2="298.4" y2="1693.25" stroke="#231815" stroke-width="1.5" />
<line x1="266.7" y1="1669.55" x2="266.7" y2="1693.25" stroke="#231815" stroke-width="1.5" />
<rect x="273.5" y="1669.55" width="24.9" height="23.7" fill="none" stroke="#231815" stroke-width="1.4" />
<circle cx="285.95" cy="1681.4" r="11.65" fill="none" stroke="#231815" stroke-width="1.4"/>
<path d="M284.65,1669.55V1679.9H273.5M273.5,1682.9H284.65V1693.25M287.25,1669.55V1679.9H298.4M298.4,1682.9H287.25V1693.25" fill="none" stroke="#231815" stroke-width="1.26" />
<text transform="translate(257.9,1683.76) scale(0.72,1)" x="0" y="0" font-size="17" fill="#231815" font-weight="bold" text-anchor="middle" stroke="#231815" stroke-width="0.85">12</text>
<line x1="499.8" y1="1353.1" x2="605.6" y2="1353.1" stroke="#231815" stroke-width="1.5" />
<line x1="499.8" y1="1376.8" x2="605.6" y2="1376.8" stroke="#231815" stroke-width="1.5" />
<line x1="518.6" y1="1353.1" x2="518.6" y2="1376.8" stroke="#231815" stroke-width="1.5" />
<line x1="586.8" y1="1353.1" x2="586.8" y2="1376.8" stroke="#231815" stroke-width="1.5" />
<rect x="524.8" y="1353.1" width="25.9" height="23.7" fill="none" stroke="#231815" stroke-width="1.4" />
<circle cx="537.75" cy="1364.95" r="11.65" fill="none" stroke="#231815" stroke-width="1.4"/>
<path d="M536.45,1353.1V1363.45H524.8M524.8,1366.45H536.45V1376.8M539.05,1353.1V1363.45H550.7M550.7,1366.45H539.05V1376.8" fill="none" stroke="#231815" stroke-width="1.26" />
<rect x="554.3" y="1353.1" width="25" height="23.7" fill="none" stroke="#231815" stroke-width="1.4" />
<circle cx="566.8" cy="1364.95" r="11.65" fill="none" stroke="#231815" stroke-width="1.4"/>
<path d="M565.5,1353.1V1363.45H554.3M554.3,1366.45H565.5V1376.8M568.1,1353.1V1363.45H579.3M579.3,1366.45H568.1V1376.8" fill="none" stroke="#231815" stroke-width="1.26" />
<text transform="translate(509.1,1368.07) scale(0.92,1)" x="0" y="0" font-size="12.8" fill="#231815" font-weight="bold" text-anchor="middle" stroke="#231815" stroke-width="0.64">25</text>
<text transform="translate(596,1369.67) scale(0.92,1)" x="0" y="0" font-size="12.8" fill="#231815" font-weight="bold" text-anchor="middle" stroke="#231815" stroke-width="0.64">13</text>
<line x1="499.8" y1="1381.85" x2="605.6" y2="1381.85" stroke="#231815" stroke-width="1.5" />
<line x1="499.8" y1="1405.55" x2="605.6" y2="1405.55" stroke="#231815" stroke-width="1.5" />
<line x1="518.6" y1="1381.85" x2="518.6" y2="1405.55" stroke="#231815" stroke-width="1.5" />
<line x1="586.8" y1="1381.85" x2="586.8" y2="1405.55" stroke="#231815" stroke-width="1.5" />
<rect x="524.8" y="1381.85" width="25.9" height="23.7" fill="none" stroke="#231815" stroke-width="1.4" />
<circle cx="537.75" cy="1393.7" r="11.65" fill="none" stroke="#231815" stroke-width="1.4"/>
<path d="M536.45,1381.85V1392.2H524.8M524.8,1395.2H536.45V1405.55M539.05,1381.85V1392.2H550.7M550.7,1395.2H539.05V1405.55" fill="none" stroke="#231815" stroke-width="1.26" />
<rect x="554.3" y="1381.85" width="25" height="23.7" fill="none" stroke="#231815" stroke-width="1.4" />
<circle cx="566.8" cy="1393.7" r="11.65" fill="none" stroke="#231815" stroke-width="1.4"/>
<path d="M565.5,1381.85V1392.2H554.3M554.3,1395.2H565.5V1405.55M568.1,1381.85V1392.2H579.3M579.3,1395.2H568.1V1405.55" fill="none" stroke="#231815" stroke-width="1.26" />
<text transform="translate(509.1,1394.72) scale(0.92,1)" x="0" y="0" font-size="12.8" fill="#231815" font-weight="bold" text-anchor="middle" stroke="#231815" stroke-width="0.64">26</text>
<text transform="translate(596,1398.42) scale(0.92,1)" x="0" y="0" font-size="12.8" fill="#231815" font-weight="bold" text-anchor="middle" stroke="#231815" stroke-width="0.64">14</text>
<line x1="499.8" y1="1410.6" x2="605.6" y2="1410.6" stroke="#231815" stroke-width="1.5" />
<line x1="499.8" y1="1434.3" x2="605.6" y2="1434.3" stroke="#231815" stroke-width="1.5" />
<line x1="518.6" y1="1410.6" x2="518.6" y2="1434.3" stroke="#231815" stroke-width="1.5" />
<line x1="586.8" y1="1410.6" x2="586.8" y2="1434.3" stroke="#231815" stroke-width="1.5" />
<rect x="524.8" y="1410.6" width="25.9" height="23.7" fill="none" stroke="#231815" stroke-width="1.4" />
<circle cx="537.75" cy="1422.45" r="11.65" fill="none" stroke="#231815" stroke-width="1.4"/>
<path d="M536.45,1410.6V1420.95H524.8M524.8,1423.95H536.45V1434.3M539.05,1410.6V1420.95H550.7M550.7,1423.95H539.05V1434.3" fill="none" stroke="#231815" stroke-width="1.26" />
<rect x="554.3" y="1410.6" width="25" height="23.7" fill="none" stroke="#231815" stroke-width="1.4" />
<circle cx="566.8" cy="1422.45" r="11.65" fill="none" stroke="#231815" stroke-width="1.4"/>
<path d="M565.5,1410.6V1420.95H554.3M554.3,1423.95H565.5V1434.3M568.1,1410.6V1420.95H579.3M579.3,1423.95H568.1V1434.3" fill="none" stroke="#231815" stroke-width="1.26" />
<text transform="translate(509.1,1430.87) scale(0.92,1)" x="0" y="0" font-size="12.8" fill="#231815" font-weight="bold" text-anchor="middle" stroke="#231815" stroke-width="0.64">27</text>
<text transform="translate(596,1427.17) scale(0.92,1)" x="0" y="0" font-size="12.8" fill="#231815" font-weight="bold" text-anchor="middle" stroke="#231815" stroke-width="0.64">15</text>
<line x1="499.8" y1="1439.35" x2="605.6" y2="1439.35" stroke="#231815" stroke-width="1.5" />
<line x1="499.8" y1="1463.05" x2="605.6" y2="1463.05" stroke="#231815" stroke-width="1.5" />
<line x1="518.6" y1="1439.35" x2="518.6" y2="1463.05" stroke="#231815" stroke-width="1.5" />
<line x1="586.8" y1="1439.35" x2="586.8" y2="1463.05" stroke="#231815" stroke-width="1.5" />
<rect x="524.8" y="1439.35" width="25.9" height="23.7" fill="none" stroke="#231815" stroke-width="1.4" />
<circle cx="537.75" cy="1451.2" r="11.65" fill="none" stroke="#231815" stroke-width="1.4"/>
<path d="M536.45,1439.35V1449.7H524.8M524.8,1452.7H536.45V1463.05M539.05,1439.35V1449.7H550.7M550.7,1452.7H539.05V1463.05" fill="none" stroke="#231815" stroke-width="1.26" />
<rect x="554.3" y="1439.35" width="25" height="23.7" fill="none" stroke="#231815" stroke-width="1.4" />
<circle cx="566.8" cy="1451.2" r="11.65" fill="none" stroke="#231815" stroke-width="1.4"/>
<path d="M565.5,1439.35V1449.7H554.3M554.3,1452.7H565.5V1463.05M568.1,1439.35V1449.7H579.3M579.3,1452.7H568.1V1463.05" fill="none" stroke="#231815" stroke-width="1.26" />
<text transform="translate(509.1,1457.02) scale(0.92,1)" x="0" y="0" font-size="12.8" fill="#231815" font-weight="bold" text-anchor="middle" stroke="#231815" stroke-width="0.64">28</text>
<text transform="translate(596,1455.92) scale(0.92,1)" x="0" y="0" font-size="12.8" fill="#231815" font-weight="bold" text-anchor="middle" stroke="#231815" stroke-width="0.64">16</text>
<line x1="499.8" y1="1468.1" x2="605.6" y2="1468.1" stroke="#231815" stroke-width="1.5" />
<line x1="499.8" y1="1491.8" x2="605.6" y2="1491.8" stroke="#231815" stroke-width="1.5" />
<line x1="518.6" y1="1468.1" x2="518.6" y2="1491.8" stroke="#231815" stroke-width="1.5" />
<line x1="586.8" y1="1468.1" x2="586.8" y2="1491.8" stroke="#231815" stroke-width="1.5" />
<rect x="524.8" y="1468.1" width="25.9" height="23.7" fill="none" stroke="#231815" stroke-width="1.4" />
<circle cx="537.75" cy="1479.95" r="11.65" fill="none" stroke="#231815" stroke-width="1.4"/>
<path d="M536.45,1468.1V1478.45H524.8M524.8,1481.45H536.45V1491.8M539.05,1468.1V1478.45H550.7M550.7,1481.45H539.05V1491.8" fill="none" stroke="#231815" stroke-width="1.26" />
<rect x="554.3" y="1468.1" width="25" height="23.7" fill="none" stroke="#231815" stroke-width="1.4" />
<circle cx="566.8" cy="1479.95" r="11.65" fill="none" stroke="#231815" stroke-width="1.4"/>
<path d="M565.5,1468.1V1478.45H554.3M554.3,1481.45H565.5V1491.8M568.1,1468.1V1478.45H579.3M579.3,1481.45H568.1V1491.8" fill="none" stroke="#231815" stroke-width="1.26" />
<text transform="translate(509.1,1484.37) scale(0.92,1)" x="0" y="0" font-size="12.8" fill="#231815" font-weight="bold" text-anchor="middle" stroke="#231815" stroke-width="0.64">29</text>
<text transform="translate(596,1484.67) scale(0.92,1)" x="0" y="0" font-size="12.8" fill="#231815" font-weight="bold" text-anchor="middle" stroke="#231815" stroke-width="0.64">17</text>
<line x1="499.8" y1="1496.85" x2="605.6" y2="1496.85" stroke="#231815" stroke-width="1.5" />
<line x1="499.8" y1="1520.55" x2="605.6" y2="1520.55" stroke="#231815" stroke-width="1.5" />
<line x1="518.6" y1="1496.85" x2="518.6" y2="1520.55" stroke="#231815" stroke-width="1.5" />
<line x1="586.8" y1="1496.85" x2="586.8" y2="1520.55" stroke="#231815" stroke-width="1.5" />
<rect x="524.8" y="1496.85" width="25.9" height="23.7" fill="none" stroke="#231815" stroke-width="1.4" />
<circle cx="537.75" cy="1508.7" r="11.65" fill="none" stroke="#231815" stroke-width="1.4"/>
<path d="M536.45,1496.85V1507.2H524.8M524.8,1510.2H536.45V1520.55M539.05,1496.85V1507.2H550.7M550.7,1510.2H539.05V1520.55" fill="none" stroke="#231815" stroke-width="1.26" />
<rect x="554.3" y="1496.85" width="25" height="23.7" fill="none" stroke="#231815" stroke-width="1.4" />
<circle cx="566.8" cy="1508.7" r="11.65" fill="none" stroke="#231815" stroke-width="1.4"/>
<path d="M565.5,1496.85V1507.2H554.3M554.3,1510.2H565.5V1520.55M568.1,1496.85V1507.2H579.3M579.3,1510.2H568.1V1520.55" fill="none" stroke="#231815" stroke-width="1.26" />
<text transform="translate(509.1,1513.12) scale(0.92,1)" x="0" y="0" font-size="12.8" fill="#231815" font-weight="bold" text-anchor="middle" stroke="#231815" stroke-width="0.64">30</text>
<text transform="translate(596,1513.42) scale(0.92,1)" x="0" y="0" font-size="12.8" fill="#231815" font-weight="bold" text-anchor="middle" stroke="#231815" stroke-width="0.64">18</text>
<line x1="499.8" y1="1525.6" x2="605.6" y2="1525.6" stroke="#231815" stroke-width="1.5" />
<line x1="499.8" y1="1549.3" x2="605.6" y2="1549.3" stroke="#231815" stroke-width="1.5" />
<line x1="518.6" y1="1525.6" x2="518.6" y2="1549.3" stroke="#231815" stroke-width="1.5" />
<line x1="586.8" y1="1525.6" x2="586.8" y2="1549.3" stroke="#231815" stroke-width="1.5" />
<rect x="524.8" y="1525.6" width="25.9" height="23.7" fill="none" stroke="#231815" stroke-width="1.4" />
<circle cx="537.75" cy="1537.45" r="11.65" fill="none" stroke="#231815" stroke-width="1.4"/>
<path d="M536.45,1525.6V1535.95H524.8M524.8,1538.95H536.45V1549.3M539.05,1525.6V1535.95H550.7M550.7,1538.95H539.05V1549.3" fill="none" stroke="#231815" stroke-width="1.26" />
<rect x="554.3" y="1525.6" width="25" height="23.7" fill="none" stroke="#231815" stroke-width="1.4" />
<circle cx="566.8" cy="1537.45" r="11.65" fill="none" stroke="#231815" stroke-width="1.4"/>
<path d="M565.5,1525.6V1535.95H554.3M554.3,1538.95H565.5V1549.3M568.1,1525.6V1535.95H579.3M579.3,1538.95H568.1V1549.3" fill="none" stroke="#231815" stroke-width="1.26" />
<text transform="translate(509.1,1541.87) scale(0.92,1)" x="0" y="0" font-size="12.8" fill="#231815" font-weight="bold" text-anchor="middle" stroke="#231815" stroke-width="0.64">31</text>
<text transform="translate(596,1542.17) scale(0.92,1)" x="0" y="0" font-size="12.8" fill="#231815" font-weight="bold" text-anchor="middle" stroke="#231815" stroke-width="0.64">19</text>
<line x1="499.8" y1="1554.35" x2="605.6" y2="1554.35" stroke="#231815" stroke-width="1.5" />
<line x1="499.8" y1="1578.05" x2="605.6" y2="1578.05" stroke="#231815" stroke-width="1.5" />
<line x1="518.6" y1="1554.35" x2="518.6" y2="1578.05" stroke="#231815" stroke-width="1.5" />
<line x1="586.8" y1="1554.35" x2="586.8" y2="1578.05" stroke="#231815" stroke-width="1.5" />
<rect x="524.8" y="1554.35" width="25.9" height="23.7" fill="none" stroke="#231815" stroke-width="1.4" />
<circle cx="537.75" cy="1566.2" r="11.65" fill="none" stroke="#231815" stroke-width="1.4"/>
<path d="M536.45,1554.35V1564.7H524.8M524.8,1567.7H536.45V1578.05M539.05,1554.35V1564.7H550.7M550.7,1567.7H539.05V1578.05" fill="none" stroke="#231815" stroke-width="1.26" />
<rect x="554.3" y="1554.35" width="25" height="23.7" fill="none" stroke="#231815" stroke-width="1.4" />
<circle cx="566.8" cy="1566.2" r="11.65" fill="none" stroke="#231815" stroke-width="1.4"/>
<path d="M565.5,1554.35V1564.7H554.3M554.3,1567.7H565.5V1578.05M568.1,1554.35V1564.7H579.3M579.3,1567.7H568.1V1578.05" fill="none" stroke="#231815" stroke-width="1.26" />
<text transform="translate(509.1,1570.62) scale(0.92,1)" x="0" y="0" font-size="12.8" fill="#231815" font-weight="bold" text-anchor="middle" stroke="#231815" stroke-width="0.64">32</text>
<text transform="translate(596,1570.92) scale(0.92,1)" x="0" y="0" font-size="12.8" fill="#231815" font-weight="bold" text-anchor="middle" stroke="#231815" stroke-width="0.64">20</text>
<line x1="499.8" y1="1583.1" x2="605.6" y2="1583.1" stroke="#231815" stroke-width="1.5" />
<line x1="499.8" y1="1606.8" x2="605.6" y2="1606.8" stroke="#231815" stroke-width="1.5" />
<line x1="518.6" y1="1583.1" x2="518.6" y2="1606.8" stroke="#231815" stroke-width="1.5" />
<line x1="586.8" y1="1583.1" x2="586.8" y2="1606.8" stroke="#231815" stroke-width="1.5" />
<rect x="524.8" y="1583.1" width="25.9" height="23.7" fill="none" stroke="#231815" stroke-width="1.4" />
<circle cx="537.75" cy="1594.95" r="11.65" fill="none" stroke="#231815" stroke-width="1.4"/>
<path d="M536.45,1583.1V1593.45H524.8M524.8,1596.45H536.45V1606.8M539.05,1583.1V1593.45H550.7M550.7,1596.45H539.05V1606.8" fill="none" stroke="#231815" stroke-width="1.26" />
<rect x="554.3" y="1583.1" width="25" height="23.7" fill="none" stroke="#231815" stroke-width="1.4" />
<circle cx="566.8" cy="1594.95" r="11.65" fill="none" stroke="#231815" stroke-width="1.4"/>
<path d="M565.5,1583.1V1593.45H554.3M554.3,1596.45H565.5V1606.8M568.1,1583.1V1593.45H579.3M579.3,1596.45H568.1V1606.8" fill="none" stroke="#231815" stroke-width="1.26" />
<text transform="translate(509.1,1599.37) scale(0.92,1)" x="0" y="0" font-size="12.8" fill="#231815" font-weight="bold" text-anchor="middle" stroke="#231815" stroke-width="0.64">33</text>
<text transform="translate(596,1599.67) scale(0.92,1)" x="0" y="0" font-size="12.8" fill="#231815" font-weight="bold" text-anchor="middle" stroke="#231815" stroke-width="0.64">21</text>
<line x1="499.8" y1="1611.85" x2="605.6" y2="1611.85" stroke="#231815" stroke-width="1.5" />
<line x1="499.8" y1="1635.55" x2="605.6" y2="1635.55" stroke="#231815" stroke-width="1.5" />
<line x1="518.6" y1="1611.85" x2="518.6" y2="1635.55" stroke="#231815" stroke-width="1.5" />
<line x1="586.8" y1="1611.85" x2="586.8" y2="1635.55" stroke="#231815" stroke-width="1.5" />
<rect x="524.8" y="1611.85" width="25.9" height="23.7" fill="none" stroke="#231815" stroke-width="1.4" />
<circle cx="537.75" cy="1623.7" r="11.65" fill="none" stroke="#231815" stroke-width="1.4"/>
<path d="M536.45,1611.85V1622.2H524.8M524.8,1625.2H536.45V1635.55M539.05,1611.85V1622.2H550.7M550.7,1625.2H539.05V1635.55" fill="none" stroke="#231815" stroke-width="1.26" />
<rect x="554.3" y="1611.85" width="25" height="23.7" fill="none" stroke="#231815" stroke-width="1.4" />
<circle cx="566.8" cy="1623.7" r="11.65" fill="none" stroke="#231815" stroke-width="1.4"/>
<path d="M565.5,1611.85V1622.2H554.3M554.3,1625.2H565.5V1635.55M568.1,1611.85V1622.2H579.3M579.3,1625.2H568.1V1635.55" fill="none" stroke="#231815" stroke-width="1.26" />
<text transform="translate(509.1,1628.12) scale(0.92,1)" x="0" y="0" font-size="12.8" fill="#231815" font-weight="bold" text-anchor="middle" stroke="#231815" stroke-width="0.64">34</text>
<text transform="translate(596,1628.42) scale(0.92,1)" x="0" y="0" font-size="12.8" fill="#231815" font-weight="bold" text-anchor="middle" stroke="#231815" stroke-width="0.64">22</text>
<line x1="499.8" y1="1640.6" x2="605.6" y2="1640.6" stroke="#231815" stroke-width="1.5" />
<line x1="499.8" y1="1664.3" x2="605.6" y2="1664.3" stroke="#231815" stroke-width="1.5" />
<line x1="518.6" y1="1640.6" x2="518.6" y2="1664.3" stroke="#231815" stroke-width="1.5" />
<line x1="586.8" y1="1640.6" x2="586.8" y2="1664.3" stroke="#231815" stroke-width="1.5" />
<rect x="524.8" y="1640.6" width="25.9" height="23.7" fill="none" stroke="#231815" stroke-width="1.4" />
<circle cx="537.75" cy="1652.45" r="11.65" fill="none" stroke="#231815" stroke-width="1.4"/>
<path d="M536.45,1640.6V1650.95H524.8M524.8,1653.95H536.45V1664.3M539.05,1640.6V1650.95H550.7M550.7,1653.95H539.05V1664.3" fill="none" stroke="#231815" stroke-width="1.26" />
<rect x="554.3" y="1640.6" width="25" height="23.7" fill="none" stroke="#231815" stroke-width="1.4" />
<circle cx="566.8" cy="1652.45" r="11.65" fill="none" stroke="#231815" stroke-width="1.4"/>
<path d="M565.5,1640.6V1650.95H554.3M554.3,1653.95H565.5V1664.3M568.1,1640.6V1650.95H579.3M579.3,1653.95H568.1V1664.3" fill="none" stroke="#231815" stroke-width="1.26" />
<text transform="translate(509.1,1656.87) scale(0.92,1)" x="0" y="0" font-size="12.8" fill="#231815" font-weight="bold" text-anchor="middle" stroke="#231815" stroke-width="0.64">35</text>
<text transform="translate(596,1657.17) scale(0.92,1)" x="0" y="0" font-size="12.8" fill="#231815" font-weight="bold" text-anchor="middle" stroke="#231815" stroke-width="0.64">23</text>
<line x1="499.8" y1="1669.35" x2="605.6" y2="1669.35" stroke="#231815" stroke-width="1.5" />
<line x1="499.8" y1="1693.05" x2="605.6" y2="1693.05" stroke="#231815" stroke-width="1.5" />
<line x1="518.6" y1="1669.35" x2="518.6" y2="1693.05" stroke="#231815" stroke-width="1.5" />
<line x1="586.8" y1="1669.35" x2="586.8" y2="1693.05" stroke="#231815" stroke-width="1.5" />
<rect x="524.8" y="1669.35" width="25.9" height="23.7" fill="none" stroke="#231815" stroke-width="1.4" />
<circle cx="537.75" cy="1681.2" r="11.65" fill="none" stroke="#231815" stroke-width="1.4"/>
<path d="M536.45,1669.35V1679.7H524.8M524.8,1682.7H536.45V1693.05M539.05,1669.35V1679.7H550.7M550.7,1682.7H539.05V1693.05" fill="none" stroke="#231815" stroke-width="1.26" />
<rect x="554.3" y="1669.35" width="25" height="23.7" fill="none" stroke="#231815" stroke-width="1.4" />
<circle cx="566.8" cy="1681.2" r="11.65" fill="none" stroke="#231815" stroke-width="1.4"/>
<path d="M565.5,1669.35V1679.7H554.3M554.3,1682.7H565.5V1693.05M568.1,1669.35V1679.7H579.3M579.3,1682.7H568.1V1693.05" fill="none" stroke="#231815" stroke-width="1.26" />
<text transform="translate(509.1,1685.62) scale(0.92,1)" x="0" y="0" font-size="12.8" fill="#231815" font-weight="bold" text-anchor="middle" stroke="#231815" stroke-width="0.64">36</text>
<text transform="translate(596,1685.92) scale(0.92,1)" x="0" y="0" font-size="12.8" fill="#231815" font-weight="bold" text-anchor="middle" stroke="#231815" stroke-width="0.64">24</text>
<line x1="565.9" y1="1129.6" x2="923.5" y2="1129.6" stroke="#8a8a8a" stroke-width="1.5" stroke-dasharray="19.8 20.1" stroke-dashoffset="9.9"/>
<line x1="923.5" y1="1129.6" x2="923.5" y2="1285.8" stroke="#8a8a8a" stroke-width="1.5" stroke-dasharray="19.8 20.1" stroke-dashoffset="9.9"/>
<line x1="923.5" y1="1285.8" x2="565.9" y2="1285.8" stroke="#8a8a8a" stroke-width="1.5" stroke-dasharray="19.8 20.1" stroke-dashoffset="9.9"/>
<line x1="565.9" y1="1285.8" x2="565.9" y2="1129.6" stroke="#8a8a8a" stroke-width="1.5" stroke-dasharray="19.8 20.1" stroke-dashoffset="9.9"/>
<text x="576.1" y="1155.67" font-size="16.2" fill="#231815" font-weight="normal" text-anchor="start" stroke="#231815" stroke-width="0.3">工作电源</text>
<text x="695.1" y="1155.67" font-size="16.2" fill="#231815" font-weight="normal" text-anchor="start" stroke="#231815" stroke-width="0.3">热电阻输入</text>
<text x="808.4" y="1155.67" font-size="16.2" fill="#231815" font-weight="normal" text-anchor="start" stroke="#231815" stroke-width="0.3">控制输出</text>
<line x1="578.1" y1="1168.6" x2="626.7" y2="1168.6" stroke="#231815" stroke-width="1.5" />
<line x1="578.1" y1="1191.7" x2="626.7" y2="1191.7" stroke="#231815" stroke-width="1.5" />
<line x1="596.4" y1="1168.6" x2="596.4" y2="1191.7" stroke="#231815" stroke-width="1.5" />
<rect x="603.1" y="1168.6" width="23.6" height="23.1" fill="none" stroke="#231815" stroke-width="1.5" />
<circle cx="614.9" cy="1180.15" r="11.35" fill="none" stroke="#231815" stroke-width="1.5"/>
<path d="M613.52,1168.6V1178.62H603.1M603.1,1181.68H613.52V1191.7M616.28,1168.6V1178.62H626.7M626.7,1181.68H616.28V1191.7" fill="none" stroke="#231815" stroke-width="1.35" />
<text transform="translate(585.7,1183.75) scale(0.85,1)" x="0" y="0" font-size="11.3" fill="#231815" font-weight="bold" text-anchor="middle" stroke="#231815" stroke-width="0.57">11</text>
<line x1="626.7" y1="1180.15" x2="652.2" y2="1180.15" stroke="#231815" stroke-width="1.4" />
<circle cx="654.8" cy="1180.15" r="2.4" fill="#e5e5e5" stroke="#231815" stroke-width="1.4"/>
<line x1="578.1" y1="1196.7" x2="626.7" y2="1196.7" stroke="#231815" stroke-width="1.5" />
<line x1="578.1" y1="1220" x2="626.7" y2="1220" stroke="#231815" stroke-width="1.5" />
<line x1="596.4" y1="1196.7" x2="596.4" y2="1220" stroke="#231815" stroke-width="1.5" />
<rect x="603.1" y="1196.7" width="23.6" height="23.3" fill="none" stroke="#231815" stroke-width="1.5" />
<circle cx="614.9" cy="1208.35" r="11.45" fill="none" stroke="#231815" stroke-width="1.5"/>
<path d="M613.52,1196.7V1206.82H603.1M603.1,1209.88H613.52V1220M616.28,1196.7V1206.82H626.7M626.7,1209.88H616.28V1220" fill="none" stroke="#231815" stroke-width="1.35" />
<text transform="translate(585.7,1211.95) scale(0.85,1)" x="0" y="0" font-size="11.3" fill="#231815" font-weight="bold" text-anchor="middle" stroke="#231815" stroke-width="0.57">12</text>
<line x1="626.7" y1="1208.35" x2="652.2" y2="1208.35" stroke="#231815" stroke-width="1.4" />
<circle cx="654.8" cy="1208.35" r="2.4" fill="#e5e5e5" stroke="#231815" stroke-width="1.4"/>
<text transform="translate(637.2,1177.5) scale(0.85,1)" x="0" y="0" font-size="14.5" fill="#231815" font-weight="normal" text-anchor="start" stroke="#231815" stroke-width="0.35">L</text>
<text transform="translate(637.2,1223) scale(0.85,1)" x="0" y="0" font-size="14.5" fill="#231815" font-weight="normal" text-anchor="start" stroke="#231815" stroke-width="0.35">N</text>
<line x1="695" y1="1164.8" x2="745.6" y2="1164.8" stroke="#231815" stroke-width="1.5" />
<line x1="695" y1="1189.2" x2="745.6" y2="1189.2" stroke="#231815" stroke-width="1.5" />
<line x1="713.9" y1="1164.8" x2="713.9" y2="1189.2" stroke="#231815" stroke-width="1.5" />
<rect x="721.1" y="1164.8" width="24.5" height="24.4" fill="none" stroke="#231815" stroke-width="1.5" />
<circle cx="733.35" cy="1177" r="12" fill="none" stroke="#231815" stroke-width="1.5"/>
<path d="M731.92,1164.8V1175.41H721.1M721.1,1178.59H731.92V1189.2M734.78,1164.8V1175.41H745.6M745.6,1178.59H734.78V1189.2" fill="none" stroke="#231815" stroke-width="1.35" />
<text transform="translate(702.8,1181.55) scale(0.98,1)" x="0" y="0" font-size="13.2" fill="#231815" font-weight="bold" text-anchor="middle" stroke="#231815" stroke-width="0.66">22</text>
<line x1="695" y1="1193.3" x2="745.6" y2="1193.3" stroke="#231815" stroke-width="1.5" />
<line x1="695" y1="1218.1" x2="745.6" y2="1218.1" stroke="#231815" stroke-width="1.5" />
<line x1="713.9" y1="1193.3" x2="713.9" y2="1218.1" stroke="#231815" stroke-width="1.5" />
<rect x="721.1" y="1193.3" width="24.5" height="24.8" fill="none" stroke="#231815" stroke-width="1.5" />
<circle cx="733.35" cy="1205.7" r="12.05" fill="none" stroke="#231815" stroke-width="1.5"/>
<path d="M731.92,1193.3V1204.11H721.1M721.1,1207.29H731.92V1218.1M734.78,1193.3V1204.11H745.6M745.6,1207.29H734.78V1218.1" fill="none" stroke="#231815" stroke-width="1.35" />
<text transform="translate(702.8,1210.25) scale(0.98,1)" x="0" y="0" font-size="13.2" fill="#231815" font-weight="bold" text-anchor="middle" stroke="#231815" stroke-width="0.66">23</text>
<line x1="695" y1="1222.8" x2="745.6" y2="1222.8" stroke="#231815" stroke-width="1.5" />
<line x1="695" y1="1247.2" x2="745.6" y2="1247.2" stroke="#231815" stroke-width="1.5" />
<line x1="713.9" y1="1222.8" x2="713.9" y2="1247.2" stroke="#231815" stroke-width="1.5" />
<rect x="721.1" y="1222.8" width="24.5" height="24.4" fill="none" stroke="#231815" stroke-width="1.5" />
<circle cx="733.35" cy="1235" r="12" fill="none" stroke="#231815" stroke-width="1.5"/>
<path d="M731.92,1222.8V1233.41H721.1M721.1,1236.59H731.92V1247.2M734.78,1222.8V1233.41H745.6M745.6,1236.59H734.78V1247.2" fill="none" stroke="#231815" stroke-width="1.35" />
<text transform="translate(702.8,1239.55) scale(0.98,1)" x="0" y="0" font-size="13.2" fill="#231815" font-weight="bold" text-anchor="middle" stroke="#231815" stroke-width="0.66">24</text>
<polyline points="745.6,1176.7 761.7,1176.7 761.7,1181.7" fill="none" stroke="#231815" stroke-width="1.4" stroke-linejoin="miter" />
<rect x="758.3" y="1181.7" width="6.4" height="21.1" fill="#ffffff" stroke="#231815" stroke-width="1.4" />
<polyline points="761.7,1202.8 761.7,1235 745.6,1235" fill="none" stroke="#231815" stroke-width="1.4" stroke-linejoin="miter" />
<polyline points="745.6,1205.6 753.9,1205.6 753.9,1220 761.7,1220" fill="none" stroke="#231815" stroke-width="1.4" stroke-linejoin="miter" />
<text transform="translate(768,1208.18) scale(0.82,1)" x="0" y="0" font-size="13" fill="#231815" font-weight="normal" text-anchor="start" stroke="#231815" stroke-width="0.35">RTD</text>
<line x1="808.4" y1="1165.3" x2="853.7" y2="1165.3" stroke="#231815" stroke-width="1.5" />
<line x1="808.4" y1="1189" x2="853.7" y2="1189" stroke="#231815" stroke-width="1.5" />
<line x1="828.3" y1="1165.3" x2="828.3" y2="1189" stroke="#231815" stroke-width="1.5" />
<rect x="832" y="1165.3" width="21.7" height="23.7" fill="none" stroke="#231815" stroke-width="1.5" />
<circle cx="842.85" cy="1177.15" r="10.65" fill="none" stroke="#231815" stroke-width="1.5"/>
<path d="M841.58,1165.3V1175.74H832M832,1178.56H841.58V1189M844.12,1165.3V1175.74H853.7M853.7,1178.56H844.12V1189" fill="none" stroke="#231815" stroke-width="1.35" />
<text transform="translate(816.4,1181.7) scale(0.98,1)" x="0" y="0" font-size="13.2" fill="#231815" font-weight="bold" text-anchor="middle" stroke="#231815" stroke-width="0.66">25</text>
<line x1="853.7" y1="1177.15" x2="873" y2="1177.15" stroke="#231815" stroke-width="1.4" />
<circle cx="874" cy="1177.15" r="1.6" fill="#231815"/>
<line x1="808.4" y1="1192" x2="853.7" y2="1192" stroke="#231815" stroke-width="1.5" />
<line x1="808.4" y1="1216" x2="853.7" y2="1216" stroke="#231815" stroke-width="1.5" />
<line x1="828.3" y1="1192" x2="828.3" y2="1216" stroke="#231815" stroke-width="1.5" />
<rect x="832" y="1192" width="21.7" height="24" fill="none" stroke="#231815" stroke-width="1.5" />
<circle cx="842.85" cy="1204" r="10.65" fill="none" stroke="#231815" stroke-width="1.5"/>
<path d="M841.58,1192V1202.59H832M832,1205.41H841.58V1216M844.12,1192V1202.59H853.7M853.7,1205.41H844.12V1216" fill="none" stroke="#231815" stroke-width="1.35" />
<text transform="translate(816.4,1208.55) scale(0.98,1)" x="0" y="0" font-size="13.2" fill="#231815" font-weight="bold" text-anchor="middle" stroke="#231815" stroke-width="0.66">26</text>
<line x1="853.7" y1="1204" x2="873" y2="1204" stroke="#231815" stroke-width="1.4" />
<circle cx="874" cy="1204" r="1.6" fill="#231815"/>
<line x1="808.4" y1="1228" x2="853.7" y2="1228" stroke="#231815" stroke-width="1.5" />
<line x1="808.4" y1="1252.4" x2="853.7" y2="1252.4" stroke="#231815" stroke-width="1.5" />
<line x1="828.3" y1="1228" x2="828.3" y2="1252.4" stroke="#231815" stroke-width="1.5" />
<rect x="832" y="1228" width="21.7" height="24.4" fill="none" stroke="#231815" stroke-width="1.5" />
<circle cx="842.85" cy="1240.2" r="10.65" fill="none" stroke="#231815" stroke-width="1.5"/>
<path d="M841.58,1228V1238.79H832M832,1241.61H841.58V1252.4M844.12,1228V1238.79H853.7M853.7,1241.61H844.12V1252.4" fill="none" stroke="#231815" stroke-width="1.35" />
<text transform="translate(816.4,1244.75) scale(0.98,1)" x="0" y="0" font-size="13.2" fill="#231815" font-weight="bold" text-anchor="middle" stroke="#231815" stroke-width="0.66">27</text>
<line x1="853.7" y1="1240.2" x2="873" y2="1240.2" stroke="#231815" stroke-width="1.4" />
<circle cx="874" cy="1240.2" r="1.6" fill="#231815"/>
<line x1="808.4" y1="1255" x2="853.7" y2="1255" stroke="#231815" stroke-width="1.5" />
<line x1="808.4" y1="1278" x2="853.7" y2="1278" stroke="#231815" stroke-width="1.5" />
<line x1="828.3" y1="1255" x2="828.3" y2="1278" stroke="#231815" stroke-width="1.5" />
<rect x="832" y="1255" width="21.7" height="23" fill="none" stroke="#231815" stroke-width="1.5" />
<circle cx="842.85" cy="1266.5" r="10.65" fill="none" stroke="#231815" stroke-width="1.5"/>
<path d="M841.58,1255V1265.09H832M832,1267.91H841.58V1278M844.12,1255V1265.09H853.7M853.7,1267.91H844.12V1278" fill="none" stroke="#231815" stroke-width="1.35" />
<text transform="translate(816.4,1271.05) scale(0.98,1)" x="0" y="0" font-size="13.2" fill="#231815" font-weight="bold" text-anchor="middle" stroke="#231815" stroke-width="0.66">28</text>
<line x1="853.7" y1="1266.5" x2="873" y2="1266.5" stroke="#231815" stroke-width="1.4" />
<circle cx="874" cy="1266.5" r="1.6" fill="#231815"/>
<text transform="translate(856.3,1194.81) scale(0.8,1)" x="0" y="0" font-size="12.5" fill="#231815" font-weight="bold" text-anchor="start" stroke="#231815" stroke-width="0.3">NO</text>
<line x1="874" y1="1204.5" x2="884" y2="1176.5" stroke="#231815" stroke-width="1.4" />
<text x="886" y="1194.17" font-size="16.2" fill="#231815" font-weight="normal" text-anchor="start" stroke="#231815" stroke-width="0.3">正转</text>
<text transform="translate(856.3,1258.01) scale(0.8,1)" x="0" y="0" font-size="12.5" fill="#231815" font-weight="bold" text-anchor="start" stroke="#231815" stroke-width="0.3">NO</text>
<line x1="874" y1="1267.7" x2="884" y2="1239.7" stroke="#231815" stroke-width="1.4" />
<text x="886" y="1257.37" font-size="16.2" fill="#231815" font-weight="normal" text-anchor="start" stroke="#231815" stroke-width="0.3">反转</text>
<g transform="translate(0,0)" fill="none" stroke="#3a3030" stroke-width="1.2">
<path d="M789,1366.5 C771,1366 771,1347.3 790,1347.3 L857,1347.3" stroke-dasharray="1 2.4"/>
<circle cx="793" cy="1366.5" r="3.3"/><circle cx="793" cy="1366.5" r="1.4"/>
<circle cx="860.8" cy="1347.3" r="3.3"/><circle cx="860.8" cy="1347.3" r="1.4"/>
<path d="M795.5,1369 L803,1375.5 M863.3,1350 L871,1356.5"/>
<path d="M803.5,1375 Q803.5,1368 810,1368 Q816.5,1368 816.5,1375 Z M806,1369.5 L810,1373.5 L814,1369.5"/>
<rect x="802.6" y="1374.7" width="29.9" height="5.7"/>
<rect x="796.2" y="1380.4" width="36.3" height="33.1"/>
<rect x="784.5" y="1380.4" width="10.9" height="33.1" rx="3.5"/>
<path d="M785,1391.5 H795 M785,1402.5 H795"/>
<path d="M832.5,1367.5 C839,1385 839,1410 832.5,1428 H903.6 V1412" fill="#e5e5e5"/>
<g transform="translate(829.3,1350) rotate(33.8)">
<path d="M5,0 C5,-7 10,-9.6 19,-9.6 L88,-9.6 C96,-9.6 100,-6 103,0" fill="#e5e5e5"/>
<rect x="-1" y="0" width="111.5" height="12.4" rx="2.5" fill="#e5e5e5"/>
<path d="M5,0 V12.4 M104.5,0 V12.4"/>
<path d="M6.5,1.3 Q14.7,-1.6 22.8,1.3 L22.8,11.1 Q14.7,14 6.5,11.1 Z" stroke-width="1.08"/>
<path d="M22.8,1.3 Q31.0,-1.6 39.1,1.3 L39.1,11.1 Q31.0,14 22.8,11.1 Z" stroke-width="1.08"/>
<path d="M39.1,1.3 Q47.2,-1.6 55.4,1.3 L55.4,11.1 Q47.2,14 39.1,11.1 Z" stroke-width="1.08"/>
<path d="M55.4,1.3 Q63.6,-1.6 71.7,1.3 L71.7,11.1 Q63.6,14 55.4,11.1 Z" stroke-width="1.08"/>
<path d="M71.7,1.3 Q79.9,-1.6 88.0,1.3 L88.0,11.1 Q79.9,14 71.7,11.1 Z" stroke-width="1.08"/>
<path d="M88.0,1.3 Q96.2,-1.6 104.3,1.3 L104.3,11.1 Q96.2,14 88.0,11.1 Z" stroke-width="1.08"/>
<rect x="60" y="-17.5" width="11" height="7.9" fill="#e5e5e5"/>
<path d="M36,-9.6 Q36,-19 43,-19 Q50,-19 50,-9.6 Z M39,-17 L43,-12.5 L47,-17" fill="#e5e5e5"/>
</g>
<path d="M832.5,1428 L847.9,1444.2 M903.6,1428 L888.3,1444.2 M844.6,1428 L851.1,1444.2 M883.4,1428 L878.6,1444.2"/>
<rect x="847" y="1444.2" width="41.6" height="22.2"/>
<path d="M851.1,1444.2 V1466.4 M878.6,1444.2 V1466.4"/>
<rect x="878.9" y="1447.5" width="9.1" height="15.3"/>
<circle cx="882.6" cy="1455" r="1.2" fill="#3a3030"/>
<path d="M855.2,1466.4 V1651.5 M878.6,1466.4 V1651.5 M859.7,1466.4 V1651.5 M864.4,1466.4 V1651.5 M871.3,1466.4 V1651.5"/>
<path d="M855.2,1651.5 Q858,1654.0 862,1652.5 Q866,1650.5 868,1653.0 Q873,1654.5 878.6,1651.5" />
<path d="M855.2,1658 Q858,1655.5 862,1657 Q866,1659 868,1656.5 Q873,1655 878.6,1658" />
<path d="M855.2,1658 V1734 A11.7,11.7 0 0 0 878.6,1734 V1658"/>
<path d="M859.6,1658 V1735.2 H871.4 V1730.7 L873.5,1728.7 L869.5,1726.2 L873.5,1723.7 L869.5,1721.2 L873.5,1718.7 L871.4,1716.7 V1658 M864.3,1658 V1735.2"/>
<path d="M850.3,1417.2 L859.7,1428 V1466.4 M863.2,1417.2 L864.4,1428 V1466.4 M877.5,1417.2 L871.3,1428 V1466.4"/>
</g>
<polyline points="571.8,1628.7 665.1,1628.7 665.1,1391.8 862,1391.8 877.9,1416.7" fill="none" stroke="#e4007f" stroke-width="2.4" stroke-linejoin="miter" />
<polyline points="571.8,1658.7 680.9,1658.7 680.9,1397.9 852.4,1397.9 863.6,1416.7" fill="none" stroke="#00a0e9" stroke-width="2.4" stroke-linejoin="miter" />
<polyline points="571.8,1686.4 696.8,1686.4 696.8,1404.5 845.5,1404.5 850,1416.7" fill="none" stroke="#00a0e9" stroke-width="2.4" stroke-linejoin="miter" />
<g transform="translate(0,0)">
<circle cx="850.3" cy="1417.2" r="2.7" fill="#231815"/>
<circle cx="863.2" cy="1417.2" r="2.7" fill="#231815"/>
<circle cx="877.5" cy="1417.2" r="2.7" fill="#231815"/>
</g>
</svg></body></html>
